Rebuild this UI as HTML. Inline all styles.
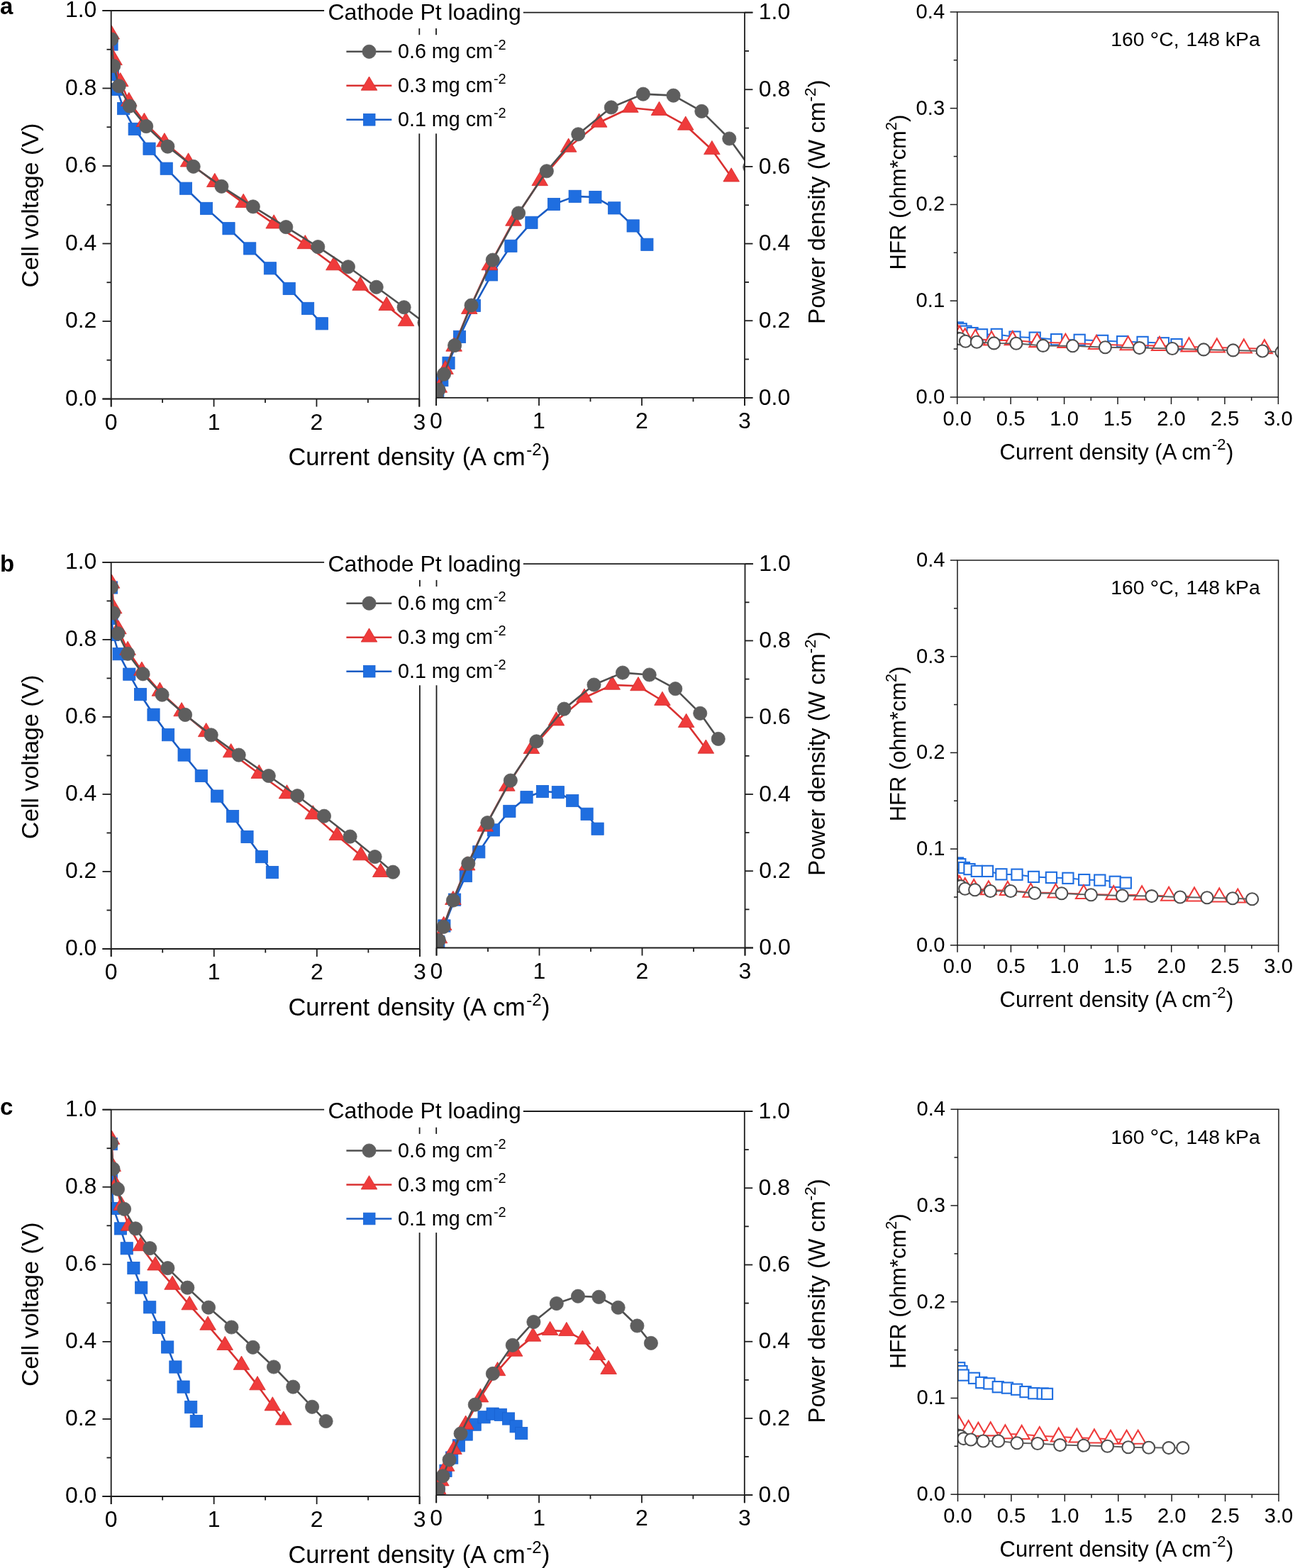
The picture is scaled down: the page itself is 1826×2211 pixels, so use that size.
<!DOCTYPE html>
<html><head><meta charset="utf-8"><title>Figure</title>
<style>
html,body{margin:0;padding:0;background:#fff;}
svg{display:block;}
text{font-family:'Liberation Sans', Arial, Helvetica, sans-serif;fill:#000;}
</style></head>
<body>
<svg xmlns="http://www.w3.org/2000/svg" width="1826" height="2211" viewBox="0 0 1826 2211">
<rect width="1826" height="2211" fill="#fff"/>
<clipPath id="c1"><rect x="156.7" y="15" width="434.6" height="547.5"/></clipPath>
<clipPath id="c2"><rect x="615" y="17.6" width="435" height="543.3"/></clipPath>
<g clip-path="url(#c1)">
<polyline points="157.5,62.5 159,105 165,126 174.2,153.1 189.7,181.9 210.5,209.7 234.7,237.7 262,265.7 291,293.9 322.5,322.2 352.2,350.4 380.9,378.3 407.7,406.9 434.1,434.9 453.8,456.3" fill="none" stroke="#1a5cc4" stroke-width="2.6" stroke-linejoin="round"/>
<rect x="148.9" y="53.9" width="17.2" height="17.2" fill="#1f6ee0" stroke="#1a62d0" stroke-width="0.8"/>
<rect x="150.4" y="96.4" width="17.2" height="17.2" fill="#1f6ee0" stroke="#1a62d0" stroke-width="0.8"/>
<rect x="156.4" y="117.4" width="17.2" height="17.2" fill="#1f6ee0" stroke="#1a62d0" stroke-width="0.8"/>
<rect x="165.6" y="144.5" width="17.2" height="17.2" fill="#1f6ee0" stroke="#1a62d0" stroke-width="0.8"/>
<rect x="181.1" y="173.3" width="17.2" height="17.2" fill="#1f6ee0" stroke="#1a62d0" stroke-width="0.8"/>
<rect x="201.9" y="201.1" width="17.2" height="17.2" fill="#1f6ee0" stroke="#1a62d0" stroke-width="0.8"/>
<rect x="226.1" y="229.1" width="17.2" height="17.2" fill="#1f6ee0" stroke="#1a62d0" stroke-width="0.8"/>
<rect x="253.4" y="257.1" width="17.2" height="17.2" fill="#1f6ee0" stroke="#1a62d0" stroke-width="0.8"/>
<rect x="282.4" y="285.3" width="17.2" height="17.2" fill="#1f6ee0" stroke="#1a62d0" stroke-width="0.8"/>
<rect x="313.9" y="313.6" width="17.2" height="17.2" fill="#1f6ee0" stroke="#1a62d0" stroke-width="0.8"/>
<rect x="343.6" y="341.8" width="17.2" height="17.2" fill="#1f6ee0" stroke="#1a62d0" stroke-width="0.8"/>
<rect x="372.3" y="369.7" width="17.2" height="17.2" fill="#1f6ee0" stroke="#1a62d0" stroke-width="0.8"/>
<rect x="399.1" y="398.3" width="17.2" height="17.2" fill="#1f6ee0" stroke="#1a62d0" stroke-width="0.8"/>
<rect x="425.5" y="426.3" width="17.2" height="17.2" fill="#1f6ee0" stroke="#1a62d0" stroke-width="0.8"/>
<rect x="445.2" y="447.7" width="17.2" height="17.2" fill="#1f6ee0" stroke="#1a62d0" stroke-width="0.8"/>
</g>
<g clip-path="url(#c1)">
<polyline points="157.2,48.6 161,85.1 169.7,115.4 181.8,143.1 203.4,172.1 231.9,200.4 265.6,228.6 302.8,257.1 343.2,286.1 386.2,315.6 430.3,344.3 470.9,374.4 508.1,402.9 545.2,431.1 572.5,453.2" fill="none" stroke="#d93131" stroke-width="2.6" stroke-linejoin="round"/>
<polygon points="157.2,35.8 168.5,55 145.9,55" fill="#ef3b3b" stroke="#d42a2a" stroke-width="0.8" stroke-linejoin="miter"/>
<polygon points="161,72.3 172.3,91.5 149.7,91.5" fill="#ef3b3b" stroke="#d42a2a" stroke-width="0.8" stroke-linejoin="miter"/>
<polygon points="169.7,102.6 181,121.8 158.4,121.8" fill="#ef3b3b" stroke="#d42a2a" stroke-width="0.8" stroke-linejoin="miter"/>
<polygon points="181.8,130.3 193.1,149.5 170.5,149.5" fill="#ef3b3b" stroke="#d42a2a" stroke-width="0.8" stroke-linejoin="miter"/>
<polygon points="203.4,159.3 214.7,178.5 192.1,178.5" fill="#ef3b3b" stroke="#d42a2a" stroke-width="0.8" stroke-linejoin="miter"/>
<polygon points="231.9,187.6 243.2,206.8 220.6,206.8" fill="#ef3b3b" stroke="#d42a2a" stroke-width="0.8" stroke-linejoin="miter"/>
<polygon points="265.6,215.8 276.9,235 254.3,235" fill="#ef3b3b" stroke="#d42a2a" stroke-width="0.8" stroke-linejoin="miter"/>
<polygon points="302.8,244.3 314.1,263.5 291.5,263.5" fill="#ef3b3b" stroke="#d42a2a" stroke-width="0.8" stroke-linejoin="miter"/>
<polygon points="343.2,273.3 354.5,292.5 331.9,292.5" fill="#ef3b3b" stroke="#d42a2a" stroke-width="0.8" stroke-linejoin="miter"/>
<polygon points="386.2,302.8 397.5,322 374.9,322" fill="#ef3b3b" stroke="#d42a2a" stroke-width="0.8" stroke-linejoin="miter"/>
<polygon points="430.3,331.5 441.6,350.7 419,350.7" fill="#ef3b3b" stroke="#d42a2a" stroke-width="0.8" stroke-linejoin="miter"/>
<polygon points="470.9,361.6 482.2,380.8 459.6,380.8" fill="#ef3b3b" stroke="#d42a2a" stroke-width="0.8" stroke-linejoin="miter"/>
<polygon points="508.1,390.1 519.4,409.3 496.8,409.3" fill="#ef3b3b" stroke="#d42a2a" stroke-width="0.8" stroke-linejoin="miter"/>
<polygon points="545.2,418.3 556.5,437.5 533.9,437.5" fill="#ef3b3b" stroke="#d42a2a" stroke-width="0.8" stroke-linejoin="miter"/>
<polygon points="572.5,440.4 583.8,459.6 561.2,459.6" fill="#ef3b3b" stroke="#d42a2a" stroke-width="0.8" stroke-linejoin="miter"/>
</g>
<g clip-path="url(#c1)">
<polyline points="157.2,55.4 160.2,93 167.7,121.3 182.8,149.6 206.2,178.1 236.4,206.6 272.7,234.8 312.4,262.8 356.8,291.4 403.3,320.1 448.3,348.1 490.9,376.3 530.7,404.8 569.6,433.3 598.5,455" fill="none" stroke="#4f4f4f" stroke-width="2.6" stroke-linejoin="round"/>
<circle cx="157.2" cy="55.4" r="9.6" fill="#5e5e5e" stroke="#5e5e5e" stroke-width="0.8"/>
<circle cx="160.2" cy="93" r="9.6" fill="#5e5e5e" stroke="#5e5e5e" stroke-width="0.8"/>
<circle cx="167.7" cy="121.3" r="9.6" fill="#5e5e5e" stroke="#5e5e5e" stroke-width="0.8"/>
<circle cx="182.8" cy="149.6" r="9.6" fill="#5e5e5e" stroke="#5e5e5e" stroke-width="0.8"/>
<circle cx="206.2" cy="178.1" r="9.6" fill="#5e5e5e" stroke="#5e5e5e" stroke-width="0.8"/>
<circle cx="236.4" cy="206.6" r="9.6" fill="#5e5e5e" stroke="#5e5e5e" stroke-width="0.8"/>
<circle cx="272.7" cy="234.8" r="9.6" fill="#5e5e5e" stroke="#5e5e5e" stroke-width="0.8"/>
<circle cx="312.4" cy="262.8" r="9.6" fill="#5e5e5e" stroke="#5e5e5e" stroke-width="0.8"/>
<circle cx="356.8" cy="291.4" r="9.6" fill="#5e5e5e" stroke="#5e5e5e" stroke-width="0.8"/>
<circle cx="403.3" cy="320.1" r="9.6" fill="#5e5e5e" stroke="#5e5e5e" stroke-width="0.8"/>
<circle cx="448.3" cy="348.1" r="9.6" fill="#5e5e5e" stroke="#5e5e5e" stroke-width="0.8"/>
<circle cx="490.9" cy="376.3" r="9.6" fill="#5e5e5e" stroke="#5e5e5e" stroke-width="0.8"/>
<circle cx="530.7" cy="404.8" r="9.6" fill="#5e5e5e" stroke="#5e5e5e" stroke-width="0.8"/>
<circle cx="569.6" cy="433.3" r="9.6" fill="#5e5e5e" stroke="#5e5e5e" stroke-width="0.8"/>
<circle cx="598.5" cy="455" r="9.6" fill="#5e5e5e" stroke="#5e5e5e" stroke-width="0.8"/>
</g>
<g clip-path="url(#c2)">
<polyline points="615.8,558.16 617.3,553.69 623.31,536.08 632.52,511.82 648.03,474.87 668.85,430.88 693.07,387.36 720.4,346.82 749.42,313.8 780.95,287.99 810.68,276.86 839.41,278.01 866.23,293.37 892.66,318.44 912.37,344.77" fill="none" stroke="#1a5cc4" stroke-width="2.6" stroke-linejoin="round"/>
<rect x="607.2" y="549.56" width="17.2" height="17.2" fill="#1f6ee0" stroke="#1a62d0" stroke-width="0.8"/>
<rect x="608.7" y="545.09" width="17.2" height="17.2" fill="#1f6ee0" stroke="#1a62d0" stroke-width="0.8"/>
<rect x="614.71" y="527.48" width="17.2" height="17.2" fill="#1f6ee0" stroke="#1a62d0" stroke-width="0.8"/>
<rect x="623.92" y="503.22" width="17.2" height="17.2" fill="#1f6ee0" stroke="#1a62d0" stroke-width="0.8"/>
<rect x="639.43" y="466.27" width="17.2" height="17.2" fill="#1f6ee0" stroke="#1a62d0" stroke-width="0.8"/>
<rect x="660.25" y="422.28" width="17.2" height="17.2" fill="#1f6ee0" stroke="#1a62d0" stroke-width="0.8"/>
<rect x="684.47" y="378.76" width="17.2" height="17.2" fill="#1f6ee0" stroke="#1a62d0" stroke-width="0.8"/>
<rect x="711.8" y="338.22" width="17.2" height="17.2" fill="#1f6ee0" stroke="#1a62d0" stroke-width="0.8"/>
<rect x="740.82" y="305.2" width="17.2" height="17.2" fill="#1f6ee0" stroke="#1a62d0" stroke-width="0.8"/>
<rect x="772.35" y="279.39" width="17.2" height="17.2" fill="#1f6ee0" stroke="#1a62d0" stroke-width="0.8"/>
<rect x="802.08" y="268.26" width="17.2" height="17.2" fill="#1f6ee0" stroke="#1a62d0" stroke-width="0.8"/>
<rect x="830.81" y="269.41" width="17.2" height="17.2" fill="#1f6ee0" stroke="#1a62d0" stroke-width="0.8"/>
<rect x="857.63" y="284.77" width="17.2" height="17.2" fill="#1f6ee0" stroke="#1a62d0" stroke-width="0.8"/>
<rect x="884.06" y="309.84" width="17.2" height="17.2" fill="#1f6ee0" stroke="#1a62d0" stroke-width="0.8"/>
<rect x="903.77" y="336.17" width="17.2" height="17.2" fill="#1f6ee0" stroke="#1a62d0" stroke-width="0.8"/>
</g>
<g clip-path="url(#c2)">
<polyline points="615.5,559.14 619.3,546.84 628.01,521.09 640.12,488.79 661.74,436.01 690.27,374.38 724,311.82 761.23,255.26 801.67,207.79 844.71,172.76 888.85,151.96 929.49,156.06 966.72,176.73 1003.86,211.22 1031.18,249.59" fill="none" stroke="#d93131" stroke-width="2.6" stroke-linejoin="round"/>
<polygon points="615.5,546.34 626.8,565.54 604.2,565.54" fill="#ef3b3b" stroke="#d42a2a" stroke-width="0.8" stroke-linejoin="miter"/>
<polygon points="619.3,534.04 630.6,553.24 608,553.24" fill="#ef3b3b" stroke="#d42a2a" stroke-width="0.8" stroke-linejoin="miter"/>
<polygon points="628.01,508.29 639.31,527.49 616.71,527.49" fill="#ef3b3b" stroke="#d42a2a" stroke-width="0.8" stroke-linejoin="miter"/>
<polygon points="640.12,475.99 651.42,495.19 628.82,495.19" fill="#ef3b3b" stroke="#d42a2a" stroke-width="0.8" stroke-linejoin="miter"/>
<polygon points="661.74,423.21 673.04,442.41 650.44,442.41" fill="#ef3b3b" stroke="#d42a2a" stroke-width="0.8" stroke-linejoin="miter"/>
<polygon points="690.27,361.58 701.57,380.78 678.97,380.78" fill="#ef3b3b" stroke="#d42a2a" stroke-width="0.8" stroke-linejoin="miter"/>
<polygon points="724,299.02 735.3,318.22 712.7,318.22" fill="#ef3b3b" stroke="#d42a2a" stroke-width="0.8" stroke-linejoin="miter"/>
<polygon points="761.23,242.46 772.53,261.66 749.93,261.66" fill="#ef3b3b" stroke="#d42a2a" stroke-width="0.8" stroke-linejoin="miter"/>
<polygon points="801.67,194.99 812.97,214.19 790.37,214.19" fill="#ef3b3b" stroke="#d42a2a" stroke-width="0.8" stroke-linejoin="miter"/>
<polygon points="844.71,159.96 856.01,179.16 833.41,179.16" fill="#ef3b3b" stroke="#d42a2a" stroke-width="0.8" stroke-linejoin="miter"/>
<polygon points="888.85,139.16 900.15,158.36 877.55,158.36" fill="#ef3b3b" stroke="#d42a2a" stroke-width="0.8" stroke-linejoin="miter"/>
<polygon points="929.49,143.26 940.79,162.46 918.19,162.46" fill="#ef3b3b" stroke="#d42a2a" stroke-width="0.8" stroke-linejoin="miter"/>
<polygon points="966.72,163.93 978.02,183.13 955.42,183.13" fill="#ef3b3b" stroke="#d42a2a" stroke-width="0.8" stroke-linejoin="miter"/>
<polygon points="1003.86,198.42 1015.16,217.62 992.56,217.62" fill="#ef3b3b" stroke="#d42a2a" stroke-width="0.8" stroke-linejoin="miter"/>
<polygon points="1031.18,236.79 1042.48,255.99 1019.88,255.99" fill="#ef3b3b" stroke="#d42a2a" stroke-width="0.8" stroke-linejoin="miter"/>
</g>
<g clip-path="url(#c2)">
<polyline points="615.5,559.16 618.5,549.64 626.01,527.66 641.12,487.08 664.55,430.56 694.77,366.6 731.11,300.51 770.84,241.26 815.28,189.31 861.83,151.44 906.87,132.65 949.51,134.64 989.34,156.89 1028.28,195.48 1057.21,235.57" fill="none" stroke="#4f4f4f" stroke-width="2.6" stroke-linejoin="round"/>
<circle cx="615.5" cy="559.16" r="9.6" fill="#5e5e5e" stroke="#5e5e5e" stroke-width="0.8"/>
<circle cx="618.5" cy="549.64" r="9.6" fill="#5e5e5e" stroke="#5e5e5e" stroke-width="0.8"/>
<circle cx="626.01" cy="527.66" r="9.6" fill="#5e5e5e" stroke="#5e5e5e" stroke-width="0.8"/>
<circle cx="641.12" cy="487.08" r="9.6" fill="#5e5e5e" stroke="#5e5e5e" stroke-width="0.8"/>
<circle cx="664.55" cy="430.56" r="9.6" fill="#5e5e5e" stroke="#5e5e5e" stroke-width="0.8"/>
<circle cx="694.77" cy="366.6" r="9.6" fill="#5e5e5e" stroke="#5e5e5e" stroke-width="0.8"/>
<circle cx="731.11" cy="300.51" r="9.6" fill="#5e5e5e" stroke="#5e5e5e" stroke-width="0.8"/>
<circle cx="770.84" cy="241.26" r="9.6" fill="#5e5e5e" stroke="#5e5e5e" stroke-width="0.8"/>
<circle cx="815.28" cy="189.31" r="9.6" fill="#5e5e5e" stroke="#5e5e5e" stroke-width="0.8"/>
<circle cx="861.83" cy="151.44" r="9.6" fill="#5e5e5e" stroke="#5e5e5e" stroke-width="0.8"/>
<circle cx="906.87" cy="132.65" r="9.6" fill="#5e5e5e" stroke="#5e5e5e" stroke-width="0.8"/>
<circle cx="949.51" cy="134.64" r="9.6" fill="#5e5e5e" stroke="#5e5e5e" stroke-width="0.8"/>
<circle cx="989.34" cy="156.89" r="9.6" fill="#5e5e5e" stroke="#5e5e5e" stroke-width="0.8"/>
<circle cx="1028.28" cy="195.48" r="9.6" fill="#5e5e5e" stroke="#5e5e5e" stroke-width="0.8"/>
<circle cx="1057.21" cy="235.57" r="9.6" fill="#5e5e5e" stroke="#5e5e5e" stroke-width="0.8"/>
</g>
<line x1="156.7" y1="15" x2="156.7" y2="573.5" stroke="#1c1c1c" stroke-width="1.8" />
<line x1="144.5" y1="562.5" x2="591.3" y2="562.5" stroke="#1c1c1c" stroke-width="1.8" />
<line x1="144.5" y1="15" x2="457.3" y2="15" stroke="#1c1c1c" stroke-width="1.8" />
<line x1="591.3" y1="15" x2="591.3" y2="573.5" stroke="#1c1c1c" stroke-width="1.8" />
<line x1="144.5" y1="562.5" x2="156.7" y2="562.5" stroke="#1c1c1c" stroke-width="1.8" />
<text x="136.4" y="571.6" font-size="32" text-anchor="end" >0.0</text>
<line x1="144.5" y1="453" x2="156.7" y2="453" stroke="#1c1c1c" stroke-width="1.8" />
<text x="136.4" y="462.1" font-size="32" text-anchor="end" >0.2</text>
<line x1="144.5" y1="343.5" x2="156.7" y2="343.5" stroke="#1c1c1c" stroke-width="1.8" />
<text x="136.4" y="352.6" font-size="32" text-anchor="end" >0.4</text>
<line x1="144.5" y1="234" x2="156.7" y2="234" stroke="#1c1c1c" stroke-width="1.8" />
<text x="136.4" y="243.1" font-size="32" text-anchor="end" >0.6</text>
<line x1="144.5" y1="124.5" x2="156.7" y2="124.5" stroke="#1c1c1c" stroke-width="1.8" />
<text x="136.4" y="133.6" font-size="32" text-anchor="end" >0.8</text>
<line x1="144.5" y1="15" x2="156.7" y2="15" stroke="#1c1c1c" stroke-width="1.8" />
<text x="136.4" y="24.1" font-size="32" text-anchor="end" >1.0</text>
<line x1="150.5" y1="507.75" x2="156.7" y2="507.75" stroke="#1c1c1c" stroke-width="1.8" />
<line x1="150.5" y1="398.25" x2="156.7" y2="398.25" stroke="#1c1c1c" stroke-width="1.8" />
<line x1="150.5" y1="288.75" x2="156.7" y2="288.75" stroke="#1c1c1c" stroke-width="1.8" />
<line x1="150.5" y1="179.25" x2="156.7" y2="179.25" stroke="#1c1c1c" stroke-width="1.8" />
<line x1="150.5" y1="69.75" x2="156.7" y2="69.75" stroke="#1c1c1c" stroke-width="1.8" />
<line x1="156.7" y1="562.5" x2="156.7" y2="573.5" stroke="#1c1c1c" stroke-width="1.8" />
<line x1="301.57" y1="562.5" x2="301.57" y2="573.5" stroke="#1c1c1c" stroke-width="1.8" />
<line x1="446.43" y1="562.5" x2="446.43" y2="573.5" stroke="#1c1c1c" stroke-width="1.8" />
<line x1="591.3" y1="562.5" x2="591.3" y2="573.5" stroke="#1c1c1c" stroke-width="1.8" />
<line x1="229.13" y1="562.5" x2="229.13" y2="568" stroke="#1c1c1c" stroke-width="1.8" />
<line x1="374" y1="562.5" x2="374" y2="568" stroke="#1c1c1c" stroke-width="1.8" />
<line x1="518.87" y1="562.5" x2="518.87" y2="568" stroke="#1c1c1c" stroke-width="1.8" />
<text x="156.7" y="605.6" font-size="32" text-anchor="middle" >0</text>
<text x="301.57" y="605.6" font-size="32" text-anchor="middle" >1</text>
<text x="446.43" y="605.6" font-size="32" text-anchor="middle" >2</text>
<text x="591.3" y="605.6" font-size="32" text-anchor="middle" >3</text>
<line x1="615" y1="17.6" x2="615" y2="571.9" stroke="#1c1c1c" stroke-width="1.8" />
<line x1="615" y1="560.9" x2="1061.4" y2="560.9" stroke="#1c1c1c" stroke-width="1.8" />
<line x1="737.6" y1="17.6" x2="1061.4" y2="17.6" stroke="#1c1c1c" stroke-width="1.8" />
<line x1="1050" y1="17.6" x2="1050" y2="571.9" stroke="#1c1c1c" stroke-width="1.8" />
<line x1="1050" y1="560.9" x2="1061.4" y2="560.9" stroke="#1c1c1c" stroke-width="1.8" />
<text x="1069.8" y="570.5" font-size="32" text-anchor="start" >0.0</text>
<line x1="1050" y1="452.24" x2="1061.4" y2="452.24" stroke="#1c1c1c" stroke-width="1.8" />
<text x="1069.8" y="461.84" font-size="32" text-anchor="start" >0.2</text>
<line x1="1050" y1="343.58" x2="1061.4" y2="343.58" stroke="#1c1c1c" stroke-width="1.8" />
<text x="1069.8" y="353.18" font-size="32" text-anchor="start" >0.4</text>
<line x1="1050" y1="234.92" x2="1061.4" y2="234.92" stroke="#1c1c1c" stroke-width="1.8" />
<text x="1069.8" y="244.52" font-size="32" text-anchor="start" >0.6</text>
<line x1="1050" y1="126.26" x2="1061.4" y2="126.26" stroke="#1c1c1c" stroke-width="1.8" />
<text x="1069.8" y="135.86" font-size="32" text-anchor="start" >0.8</text>
<line x1="1050" y1="17.6" x2="1061.4" y2="17.6" stroke="#1c1c1c" stroke-width="1.8" />
<text x="1069.8" y="27.2" font-size="32" text-anchor="start" >1.0</text>
<line x1="1050" y1="506.57" x2="1056" y2="506.57" stroke="#1c1c1c" stroke-width="1.8" />
<line x1="1050" y1="397.91" x2="1056" y2="397.91" stroke="#1c1c1c" stroke-width="1.8" />
<line x1="1050" y1="289.25" x2="1056" y2="289.25" stroke="#1c1c1c" stroke-width="1.8" />
<line x1="1050" y1="180.59" x2="1056" y2="180.59" stroke="#1c1c1c" stroke-width="1.8" />
<line x1="1050" y1="71.93" x2="1056" y2="71.93" stroke="#1c1c1c" stroke-width="1.8" />
<line x1="615" y1="560.9" x2="615" y2="571.9" stroke="#1c1c1c" stroke-width="1.8" />
<line x1="760" y1="560.9" x2="760" y2="571.9" stroke="#1c1c1c" stroke-width="1.8" />
<line x1="905" y1="560.9" x2="905" y2="571.9" stroke="#1c1c1c" stroke-width="1.8" />
<line x1="1050" y1="560.9" x2="1050" y2="571.9" stroke="#1c1c1c" stroke-width="1.8" />
<line x1="687.5" y1="560.9" x2="687.5" y2="566.4" stroke="#1c1c1c" stroke-width="1.8" />
<line x1="832.5" y1="560.9" x2="832.5" y2="566.4" stroke="#1c1c1c" stroke-width="1.8" />
<line x1="977.5" y1="560.9" x2="977.5" y2="566.4" stroke="#1c1c1c" stroke-width="1.8" />
<text x="615" y="604" font-size="32" text-anchor="middle" >0</text>
<text x="760" y="604" font-size="32" text-anchor="middle" >1</text>
<text x="905" y="604" font-size="32" text-anchor="middle" >2</text>
<text x="1050" y="604" font-size="32" text-anchor="middle" >3</text>
<rect x="457.3" y="-5" width="280.3" height="45" fill="#fff"/>
<rect x="480" y="49.2" width="250" height="139.2" fill="#fff"/>
<text x="462.5" y="27.6" font-size="32" text-anchor="start" >Cathode Pt loading</text>
<line x1="488.4" y1="72.8" x2="552.3" y2="72.8" stroke="#4f4f4f" stroke-width="2.6" />
<circle cx="520.5" cy="72.8" r="9.6" fill="#5e5e5e" stroke="#5e5e5e" stroke-width="0.8"/>
<text x="561" y="81.8" font-size="28.7" text-anchor="start" >0.6 mg cm<tspan font-size="20" dy="-11.5" dx="1">-2</tspan></text>
<line x1="488.4" y1="120.8" x2="552.3" y2="120.8" stroke="#d93131" stroke-width="2.6" />
<polygon points="520.5,108 531.8,127.2 509.2,127.2" fill="#ef3b3b" stroke="#d42a2a" stroke-width="0.8" stroke-linejoin="miter"/>
<text x="561" y="129.8" font-size="28.7" text-anchor="start" >0.3 mg cm<tspan font-size="20" dy="-11.5" dx="1">-2</tspan></text>
<line x1="488.4" y1="168.8" x2="552.3" y2="168.8" stroke="#1a5cc4" stroke-width="2.6" />
<rect x="512.4" y="160.5" width="16.6" height="16.6" fill="#1f6ee0" stroke="#1a62d0" stroke-width="0.8"/>
<text x="561" y="177.8" font-size="28.7" text-anchor="start" >0.1 mg cm<tspan font-size="20" dy="-11.5" dx="1">-2</tspan></text>
<text x="406.5" y="656.1" font-size="34.4" text-anchor="start" word-spacing="1.2">Current density (A cm<tspan font-size="24" dy="-13.8" dx="1.5">-2</tspan><tspan dy="13.8" dx="0.5">)</tspan></text>
<text transform="translate(54,405.4) rotate(-90)" font-size="33.9" text-anchor="start">Cell voltage (V)</text>
<text transform="translate(1163.4,457) rotate(-90)" font-size="33.2" text-anchor="start">Power density (W cm<tspan font-size="22.5" dy="-13.3">-2</tspan><tspan dy="13.3">)</tspan></text>
<text x="0" y="19.7" font-size="33" font-weight="bold">a</text>
<clipPath id="c3"><rect x="1349.7" y="16.9" width="452.7" height="543.1"/></clipPath>
<g clip-path="url(#c3)">
<polyline points="1350.5,462 1355.2,463.8 1362,467.2 1371.1,469.6 1384.5,471.8 1405.3,471.4 1431,475.1 1459.2,476.2 1489.6,478.7 1522.2,479.3 1554.6,480.4 1582.7,481.7 1611.1,482.4 1640.4,483.8 1659,485.6" fill="none" stroke="#1f6ee0" stroke-width="2.0" stroke-linejoin="round"/>
<rect x="1342.9" y="454.4" width="15.2" height="15.2" fill="#fff" stroke="#1f6ee0" stroke-width="2.1"/>
<rect x="1347.6" y="456.2" width="15.2" height="15.2" fill="#fff" stroke="#1f6ee0" stroke-width="2.1"/>
<rect x="1354.4" y="459.6" width="15.2" height="15.2" fill="#fff" stroke="#1f6ee0" stroke-width="2.1"/>
<rect x="1363.5" y="462" width="15.2" height="15.2" fill="#fff" stroke="#1f6ee0" stroke-width="2.1"/>
<rect x="1376.9" y="464.2" width="15.2" height="15.2" fill="#fff" stroke="#1f6ee0" stroke-width="2.1"/>
<rect x="1397.7" y="463.8" width="15.2" height="15.2" fill="#fff" stroke="#1f6ee0" stroke-width="2.1"/>
<rect x="1423.4" y="467.5" width="15.2" height="15.2" fill="#fff" stroke="#1f6ee0" stroke-width="2.1"/>
<rect x="1451.6" y="468.6" width="15.2" height="15.2" fill="#fff" stroke="#1f6ee0" stroke-width="2.1"/>
<rect x="1482" y="471.1" width="15.2" height="15.2" fill="#fff" stroke="#1f6ee0" stroke-width="2.1"/>
<rect x="1514.6" y="471.7" width="15.2" height="15.2" fill="#fff" stroke="#1f6ee0" stroke-width="2.1"/>
<rect x="1547" y="472.8" width="15.2" height="15.2" fill="#fff" stroke="#1f6ee0" stroke-width="2.1"/>
<rect x="1575.1" y="474.1" width="15.2" height="15.2" fill="#fff" stroke="#1f6ee0" stroke-width="2.1"/>
<rect x="1603.5" y="474.8" width="15.2" height="15.2" fill="#fff" stroke="#1f6ee0" stroke-width="2.1"/>
<rect x="1632.8" y="476.2" width="15.2" height="15.2" fill="#fff" stroke="#1f6ee0" stroke-width="2.1"/>
<rect x="1651.4" y="478" width="15.2" height="15.2" fill="#fff" stroke="#1f6ee0" stroke-width="2.1"/>
</g>
<g clip-path="url(#c3)">
<polyline points="1349.7,470 1353.1,472.4 1360.7,475.9 1375.3,477.5 1398.1,480 1427.8,479.8 1462.4,482.8 1502.4,483.5 1546,485.6 1590.7,486.9 1635,487.6 1676.5,489 1715.9,490.1 1753.9,491.1 1782.9,491.8" fill="none" stroke="#ef3b3b" stroke-width="2.0" stroke-linejoin="round"/>
<polygon points="1349.7,457.33 1360.7,476.33 1338.7,476.33" fill="#fff" stroke="#ef3b3b" stroke-width="2.1" stroke-linejoin="miter"/>
<polygon points="1353.1,459.73 1364.1,478.73 1342.1,478.73" fill="#fff" stroke="#ef3b3b" stroke-width="2.1" stroke-linejoin="miter"/>
<polygon points="1360.7,463.23 1371.7,482.23 1349.7,482.23" fill="#fff" stroke="#ef3b3b" stroke-width="2.1" stroke-linejoin="miter"/>
<polygon points="1375.3,464.83 1386.3,483.83 1364.3,483.83" fill="#fff" stroke="#ef3b3b" stroke-width="2.1" stroke-linejoin="miter"/>
<polygon points="1398.1,467.33 1409.1,486.33 1387.1,486.33" fill="#fff" stroke="#ef3b3b" stroke-width="2.1" stroke-linejoin="miter"/>
<polygon points="1427.8,467.13 1438.8,486.13 1416.8,486.13" fill="#fff" stroke="#ef3b3b" stroke-width="2.1" stroke-linejoin="miter"/>
<polygon points="1462.4,470.13 1473.4,489.13 1451.4,489.13" fill="#fff" stroke="#ef3b3b" stroke-width="2.1" stroke-linejoin="miter"/>
<polygon points="1502.4,470.83 1513.4,489.83 1491.4,489.83" fill="#fff" stroke="#ef3b3b" stroke-width="2.1" stroke-linejoin="miter"/>
<polygon points="1546,472.93 1557,491.93 1535,491.93" fill="#fff" stroke="#ef3b3b" stroke-width="2.1" stroke-linejoin="miter"/>
<polygon points="1590.7,474.23 1601.7,493.23 1579.7,493.23" fill="#fff" stroke="#ef3b3b" stroke-width="2.1" stroke-linejoin="miter"/>
<polygon points="1635,474.93 1646,493.93 1624,493.93" fill="#fff" stroke="#ef3b3b" stroke-width="2.1" stroke-linejoin="miter"/>
<polygon points="1676.5,476.33 1687.5,495.33 1665.5,495.33" fill="#fff" stroke="#ef3b3b" stroke-width="2.1" stroke-linejoin="miter"/>
<polygon points="1715.9,477.43 1726.9,496.43 1704.9,496.43" fill="#fff" stroke="#ef3b3b" stroke-width="2.1" stroke-linejoin="miter"/>
<polygon points="1753.9,478.43 1764.9,497.43 1742.9,497.43" fill="#fff" stroke="#ef3b3b" stroke-width="2.1" stroke-linejoin="miter"/>
<polygon points="1782.9,479.13 1793.9,498.13 1771.9,498.13" fill="#fff" stroke="#ef3b3b" stroke-width="2.1" stroke-linejoin="miter"/>
</g>
<g clip-path="url(#c3)">
<polyline points="1350.2,477 1353.8,477.7 1361.4,481.2 1377.3,482.3 1401.5,483.9 1432.9,484.3 1470.7,487.4 1512.5,487.8 1558.4,489.7 1606.6,490.6 1653,491.5 1697.2,492.9 1738.7,493.9 1780.1,495 1807,496.5" fill="none" stroke="#5e5e5e" stroke-width="2.0" stroke-linejoin="round"/>
<circle cx="1350.2" cy="477" r="8.5" fill="#fff" stroke="#4f4f4f" stroke-width="2.1"/>
<circle cx="1353.8" cy="477.7" r="8.5" fill="#fff" stroke="#4f4f4f" stroke-width="2.1"/>
<circle cx="1361.4" cy="481.2" r="8.5" fill="#fff" stroke="#4f4f4f" stroke-width="2.1"/>
<circle cx="1377.3" cy="482.3" r="8.5" fill="#fff" stroke="#4f4f4f" stroke-width="2.1"/>
<circle cx="1401.5" cy="483.9" r="8.5" fill="#fff" stroke="#4f4f4f" stroke-width="2.1"/>
<circle cx="1432.9" cy="484.3" r="8.5" fill="#fff" stroke="#4f4f4f" stroke-width="2.1"/>
<circle cx="1470.7" cy="487.4" r="8.5" fill="#fff" stroke="#4f4f4f" stroke-width="2.1"/>
<circle cx="1512.5" cy="487.8" r="8.5" fill="#fff" stroke="#4f4f4f" stroke-width="2.1"/>
<circle cx="1558.4" cy="489.7" r="8.5" fill="#fff" stroke="#4f4f4f" stroke-width="2.1"/>
<circle cx="1606.6" cy="490.6" r="8.5" fill="#fff" stroke="#4f4f4f" stroke-width="2.1"/>
<circle cx="1653" cy="491.5" r="8.5" fill="#fff" stroke="#4f4f4f" stroke-width="2.1"/>
<circle cx="1697.2" cy="492.9" r="8.5" fill="#fff" stroke="#4f4f4f" stroke-width="2.1"/>
<circle cx="1738.7" cy="493.9" r="8.5" fill="#fff" stroke="#4f4f4f" stroke-width="2.1"/>
<circle cx="1780.1" cy="495" r="8.5" fill="#fff" stroke="#4f4f4f" stroke-width="2.1"/>
<circle cx="1807" cy="496.5" r="8.5" fill="#fff" stroke="#4f4f4f" stroke-width="2.1"/>
</g>
<rect x="1349.7" y="16.9" width="452.7" height="543.1" fill="none" stroke="#1c1c1c" stroke-width="1.5"/>
<line x1="1339.7" y1="560" x2="1349.7" y2="560" stroke="#1c1c1c" stroke-width="1.5" />
<text x="1332.2" y="568.9" font-size="29.2" text-anchor="end" >0.0</text>
<line x1="1339.7" y1="424.23" x2="1349.7" y2="424.23" stroke="#1c1c1c" stroke-width="1.5" />
<text x="1332.2" y="433.12" font-size="29.2" text-anchor="end" >0.1</text>
<line x1="1339.7" y1="288.45" x2="1349.7" y2="288.45" stroke="#1c1c1c" stroke-width="1.5" />
<text x="1332.2" y="297.35" font-size="29.2" text-anchor="end" >0.2</text>
<line x1="1339.7" y1="152.67" x2="1349.7" y2="152.67" stroke="#1c1c1c" stroke-width="1.5" />
<text x="1332.2" y="161.57" font-size="29.2" text-anchor="end" >0.3</text>
<line x1="1339.7" y1="16.9" x2="1349.7" y2="16.9" stroke="#1c1c1c" stroke-width="1.5" />
<text x="1332.2" y="25.8" font-size="29.2" text-anchor="end" >0.4</text>
<line x1="1344.7" y1="492.11" x2="1349.7" y2="492.11" stroke="#1c1c1c" stroke-width="1.5" />
<line x1="1344.7" y1="356.34" x2="1349.7" y2="356.34" stroke="#1c1c1c" stroke-width="1.5" />
<line x1="1344.7" y1="220.56" x2="1349.7" y2="220.56" stroke="#1c1c1c" stroke-width="1.5" />
<line x1="1344.7" y1="84.79" x2="1349.7" y2="84.79" stroke="#1c1c1c" stroke-width="1.5" />
<line x1="1349.7" y1="560" x2="1349.7" y2="570" stroke="#1c1c1c" stroke-width="1.5" />
<text x="1349.7" y="599.5" font-size="29.2" text-anchor="middle" >0.0</text>
<line x1="1425.15" y1="560" x2="1425.15" y2="570" stroke="#1c1c1c" stroke-width="1.5" />
<text x="1425.15" y="599.5" font-size="29.2" text-anchor="middle" >0.5</text>
<line x1="1500.6" y1="560" x2="1500.6" y2="570" stroke="#1c1c1c" stroke-width="1.5" />
<text x="1500.6" y="599.5" font-size="29.2" text-anchor="middle" >1.0</text>
<line x1="1576.05" y1="560" x2="1576.05" y2="570" stroke="#1c1c1c" stroke-width="1.5" />
<text x="1576.05" y="599.5" font-size="29.2" text-anchor="middle" >1.5</text>
<line x1="1651.5" y1="560" x2="1651.5" y2="570" stroke="#1c1c1c" stroke-width="1.5" />
<text x="1651.5" y="599.5" font-size="29.2" text-anchor="middle" >2.0</text>
<line x1="1726.95" y1="560" x2="1726.95" y2="570" stroke="#1c1c1c" stroke-width="1.5" />
<text x="1726.95" y="599.5" font-size="29.2" text-anchor="middle" >2.5</text>
<line x1="1802.4" y1="560" x2="1802.4" y2="570" stroke="#1c1c1c" stroke-width="1.5" />
<text x="1802.4" y="599.5" font-size="29.2" text-anchor="middle" >3.0</text>
<line x1="1387.42" y1="560" x2="1387.42" y2="565" stroke="#1c1c1c" stroke-width="1.5" />
<line x1="1462.88" y1="560" x2="1462.88" y2="565" stroke="#1c1c1c" stroke-width="1.5" />
<line x1="1538.33" y1="560" x2="1538.33" y2="565" stroke="#1c1c1c" stroke-width="1.5" />
<line x1="1613.78" y1="560" x2="1613.78" y2="565" stroke="#1c1c1c" stroke-width="1.5" />
<line x1="1689.23" y1="560" x2="1689.23" y2="565" stroke="#1c1c1c" stroke-width="1.5" />
<line x1="1764.68" y1="560" x2="1764.68" y2="565" stroke="#1c1c1c" stroke-width="1.5" />
<text x="1409.5" y="647.5" font-size="31" text-anchor="start" >Current density (A cm<tspan font-size="22" dy="-13.5" dx="1.5">-2</tspan><tspan dy="13.5" dx="0.5">)</tspan></text>
<text transform="translate(1276.5,380.4) rotate(-90)" font-size="31" text-anchor="start">HFR (ohm*cm<tspan font-size="21.5" dy="-13">2</tspan><tspan dy="13">)</tspan></text>
<text x="1776.8" y="65.3" font-size="28.4" text-anchor="end" >160 <tspan font-size="32" dy="1.6">°</tspan><tspan dy="-1.6">C,</tspan><tspan dx="2"> 148 kPa</tspan></text>
<clipPath id="c4"><rect x="156.7" y="792.9" width="435.2" height="545.1"/></clipPath>
<clipPath id="c5"><rect x="615.5" y="795.2" width="435" height="541.3"/></clipPath>
<g clip-path="url(#c4)">
<polyline points="157.1,828.5 157.5,872 159.5,895 167.6,922.2 182.3,950.7 198,979.2 216.5,1007.7 237.1,1036.2 259.6,1064.6 283.8,1094 306.2,1122.6 328.1,1151.1 348.5,1180 368.9,1208.1 383.9,1230.1" fill="none" stroke="#1a5cc4" stroke-width="2.6" stroke-linejoin="round"/>
<rect x="148.5" y="819.9" width="17.2" height="17.2" fill="#1f6ee0" stroke="#1a62d0" stroke-width="0.8"/>
<rect x="148.9" y="863.4" width="17.2" height="17.2" fill="#1f6ee0" stroke="#1a62d0" stroke-width="0.8"/>
<rect x="150.9" y="886.4" width="17.2" height="17.2" fill="#1f6ee0" stroke="#1a62d0" stroke-width="0.8"/>
<rect x="159" y="913.6" width="17.2" height="17.2" fill="#1f6ee0" stroke="#1a62d0" stroke-width="0.8"/>
<rect x="173.7" y="942.1" width="17.2" height="17.2" fill="#1f6ee0" stroke="#1a62d0" stroke-width="0.8"/>
<rect x="189.4" y="970.6" width="17.2" height="17.2" fill="#1f6ee0" stroke="#1a62d0" stroke-width="0.8"/>
<rect x="207.9" y="999.1" width="17.2" height="17.2" fill="#1f6ee0" stroke="#1a62d0" stroke-width="0.8"/>
<rect x="228.5" y="1027.6" width="17.2" height="17.2" fill="#1f6ee0" stroke="#1a62d0" stroke-width="0.8"/>
<rect x="251" y="1056" width="17.2" height="17.2" fill="#1f6ee0" stroke="#1a62d0" stroke-width="0.8"/>
<rect x="275.2" y="1085.4" width="17.2" height="17.2" fill="#1f6ee0" stroke="#1a62d0" stroke-width="0.8"/>
<rect x="297.6" y="1114" width="17.2" height="17.2" fill="#1f6ee0" stroke="#1a62d0" stroke-width="0.8"/>
<rect x="319.5" y="1142.5" width="17.2" height="17.2" fill="#1f6ee0" stroke="#1a62d0" stroke-width="0.8"/>
<rect x="339.9" y="1171.4" width="17.2" height="17.2" fill="#1f6ee0" stroke="#1a62d0" stroke-width="0.8"/>
<rect x="360.3" y="1199.5" width="17.2" height="17.2" fill="#1f6ee0" stroke="#1a62d0" stroke-width="0.8"/>
<rect x="375.3" y="1221.5" width="17.2" height="17.2" fill="#1f6ee0" stroke="#1a62d0" stroke-width="0.8"/>
</g>
<g clip-path="url(#c4)">
<polyline points="157.5,822.8 160.7,858.5 166.9,887.4 180.1,917 199.9,945.9 225.4,974.9 256.1,1003.4 290.7,1032.3 325.7,1061.4 365.3,1091 404.5,1119.5 441.3,1148.5 475.3,1178.2 509,1206.4 536.7,1230.1" fill="none" stroke="#d93131" stroke-width="2.6" stroke-linejoin="round"/>
<polygon points="157.5,810 168.8,829.2 146.2,829.2" fill="#ef3b3b" stroke="#d42a2a" stroke-width="0.8" stroke-linejoin="miter"/>
<polygon points="160.7,845.7 172,864.9 149.4,864.9" fill="#ef3b3b" stroke="#d42a2a" stroke-width="0.8" stroke-linejoin="miter"/>
<polygon points="166.9,874.6 178.2,893.8 155.6,893.8" fill="#ef3b3b" stroke="#d42a2a" stroke-width="0.8" stroke-linejoin="miter"/>
<polygon points="180.1,904.2 191.4,923.4 168.8,923.4" fill="#ef3b3b" stroke="#d42a2a" stroke-width="0.8" stroke-linejoin="miter"/>
<polygon points="199.9,933.1 211.2,952.3 188.6,952.3" fill="#ef3b3b" stroke="#d42a2a" stroke-width="0.8" stroke-linejoin="miter"/>
<polygon points="225.4,962.1 236.7,981.3 214.1,981.3" fill="#ef3b3b" stroke="#d42a2a" stroke-width="0.8" stroke-linejoin="miter"/>
<polygon points="256.1,990.6 267.4,1009.8 244.8,1009.8" fill="#ef3b3b" stroke="#d42a2a" stroke-width="0.8" stroke-linejoin="miter"/>
<polygon points="290.7,1019.5 302,1038.7 279.4,1038.7" fill="#ef3b3b" stroke="#d42a2a" stroke-width="0.8" stroke-linejoin="miter"/>
<polygon points="325.7,1048.6 337,1067.8 314.4,1067.8" fill="#ef3b3b" stroke="#d42a2a" stroke-width="0.8" stroke-linejoin="miter"/>
<polygon points="365.3,1078.2 376.6,1097.4 354,1097.4" fill="#ef3b3b" stroke="#d42a2a" stroke-width="0.8" stroke-linejoin="miter"/>
<polygon points="404.5,1106.7 415.8,1125.9 393.2,1125.9" fill="#ef3b3b" stroke="#d42a2a" stroke-width="0.8" stroke-linejoin="miter"/>
<polygon points="441.3,1135.7 452.6,1154.9 430,1154.9" fill="#ef3b3b" stroke="#d42a2a" stroke-width="0.8" stroke-linejoin="miter"/>
<polygon points="475.3,1165.4 486.6,1184.6 464,1184.6" fill="#ef3b3b" stroke="#d42a2a" stroke-width="0.8" stroke-linejoin="miter"/>
<polygon points="509,1193.6 520.3,1212.8 497.7,1212.8" fill="#ef3b3b" stroke="#d42a2a" stroke-width="0.8" stroke-linejoin="miter"/>
<polygon points="536.7,1217.3 548,1236.5 525.4,1236.5" fill="#ef3b3b" stroke="#d42a2a" stroke-width="0.8" stroke-linejoin="miter"/>
</g>
<g clip-path="url(#c4)">
<polyline points="157,828 160,864.5 166.4,893.3 180.2,921.8 201.5,950.3 228.6,979.7 261.1,1007.9 297.7,1036.4 336.7,1064.6 378.8,1094 419.3,1122.2 457,1150.7 493.6,1179.6 528.6,1208.1 554.1,1229.7" fill="none" stroke="#4f4f4f" stroke-width="2.6" stroke-linejoin="round"/>
<circle cx="157" cy="828" r="9.6" fill="#5e5e5e" stroke="#5e5e5e" stroke-width="0.8"/>
<circle cx="160" cy="864.5" r="9.6" fill="#5e5e5e" stroke="#5e5e5e" stroke-width="0.8"/>
<circle cx="166.4" cy="893.3" r="9.6" fill="#5e5e5e" stroke="#5e5e5e" stroke-width="0.8"/>
<circle cx="180.2" cy="921.8" r="9.6" fill="#5e5e5e" stroke="#5e5e5e" stroke-width="0.8"/>
<circle cx="201.5" cy="950.3" r="9.6" fill="#5e5e5e" stroke="#5e5e5e" stroke-width="0.8"/>
<circle cx="228.6" cy="979.7" r="9.6" fill="#5e5e5e" stroke="#5e5e5e" stroke-width="0.8"/>
<circle cx="261.1" cy="1007.9" r="9.6" fill="#5e5e5e" stroke="#5e5e5e" stroke-width="0.8"/>
<circle cx="297.7" cy="1036.4" r="9.6" fill="#5e5e5e" stroke="#5e5e5e" stroke-width="0.8"/>
<circle cx="336.7" cy="1064.6" r="9.6" fill="#5e5e5e" stroke="#5e5e5e" stroke-width="0.8"/>
<circle cx="378.8" cy="1094" r="9.6" fill="#5e5e5e" stroke="#5e5e5e" stroke-width="0.8"/>
<circle cx="419.3" cy="1122.2" r="9.6" fill="#5e5e5e" stroke="#5e5e5e" stroke-width="0.8"/>
<circle cx="457" cy="1150.7" r="9.6" fill="#5e5e5e" stroke="#5e5e5e" stroke-width="0.8"/>
<circle cx="493.6" cy="1179.6" r="9.6" fill="#5e5e5e" stroke="#5e5e5e" stroke-width="0.8"/>
<circle cx="528.6" cy="1208.1" r="9.6" fill="#5e5e5e" stroke="#5e5e5e" stroke-width="0.8"/>
<circle cx="554.1" cy="1229.7" r="9.6" fill="#5e5e5e" stroke="#5e5e5e" stroke-width="0.8"/>
</g>
<g clip-path="url(#c5)">
<polyline points="615.9,1335.1 616.3,1333.95 618.3,1328.01 626.39,1305.48 641.09,1268.63 656.78,1235.06 675.27,1201.29 695.86,1170.4 718.35,1143.92 742.54,1124.21 764.93,1116.06 786.82,1117.21 807.21,1129.06 827.6,1147.81 842.6,1168.69" fill="none" stroke="#1a5cc4" stroke-width="2.6" stroke-linejoin="round"/>
<rect x="607.3" y="1326.5" width="17.2" height="17.2" fill="#1f6ee0" stroke="#1a62d0" stroke-width="0.8"/>
<rect x="607.7" y="1325.35" width="17.2" height="17.2" fill="#1f6ee0" stroke="#1a62d0" stroke-width="0.8"/>
<rect x="609.7" y="1319.41" width="17.2" height="17.2" fill="#1f6ee0" stroke="#1a62d0" stroke-width="0.8"/>
<rect x="617.79" y="1296.88" width="17.2" height="17.2" fill="#1f6ee0" stroke="#1a62d0" stroke-width="0.8"/>
<rect x="632.49" y="1260.03" width="17.2" height="17.2" fill="#1f6ee0" stroke="#1a62d0" stroke-width="0.8"/>
<rect x="648.18" y="1226.46" width="17.2" height="17.2" fill="#1f6ee0" stroke="#1a62d0" stroke-width="0.8"/>
<rect x="666.67" y="1192.69" width="17.2" height="17.2" fill="#1f6ee0" stroke="#1a62d0" stroke-width="0.8"/>
<rect x="687.26" y="1161.8" width="17.2" height="17.2" fill="#1f6ee0" stroke="#1a62d0" stroke-width="0.8"/>
<rect x="709.75" y="1135.32" width="17.2" height="17.2" fill="#1f6ee0" stroke="#1a62d0" stroke-width="0.8"/>
<rect x="733.94" y="1115.61" width="17.2" height="17.2" fill="#1f6ee0" stroke="#1a62d0" stroke-width="0.8"/>
<rect x="756.33" y="1107.46" width="17.2" height="17.2" fill="#1f6ee0" stroke="#1a62d0" stroke-width="0.8"/>
<rect x="778.22" y="1108.61" width="17.2" height="17.2" fill="#1f6ee0" stroke="#1a62d0" stroke-width="0.8"/>
<rect x="798.61" y="1120.46" width="17.2" height="17.2" fill="#1f6ee0" stroke="#1a62d0" stroke-width="0.8"/>
<rect x="819" y="1139.21" width="17.2" height="17.2" fill="#1f6ee0" stroke="#1a62d0" stroke-width="0.8"/>
<rect x="834" y="1160.09" width="17.2" height="17.2" fill="#1f6ee0" stroke="#1a62d0" stroke-width="0.8"/>
</g>
<g clip-path="url(#c5)">
<polyline points="616.3,1333.68 619.5,1323.37 625.7,1305.04 638.89,1269.06 658.68,1220.55 684.17,1165.74 714.85,1108.83 749.44,1056.09 784.42,1016.51 824,983.8 863.19,965.86 899.97,967.32 933.95,987.99 967.64,1019.13 995.33,1055.83" fill="none" stroke="#d93131" stroke-width="2.6" stroke-linejoin="round"/>
<polygon points="616.3,1320.88 627.6,1340.08 605,1340.08" fill="#ef3b3b" stroke="#d42a2a" stroke-width="0.8" stroke-linejoin="miter"/>
<polygon points="619.5,1310.57 630.8,1329.77 608.2,1329.77" fill="#ef3b3b" stroke="#d42a2a" stroke-width="0.8" stroke-linejoin="miter"/>
<polygon points="625.7,1292.24 637,1311.44 614.4,1311.44" fill="#ef3b3b" stroke="#d42a2a" stroke-width="0.8" stroke-linejoin="miter"/>
<polygon points="638.89,1256.26 650.19,1275.46 627.59,1275.46" fill="#ef3b3b" stroke="#d42a2a" stroke-width="0.8" stroke-linejoin="miter"/>
<polygon points="658.68,1207.75 669.98,1226.95 647.38,1226.95" fill="#ef3b3b" stroke="#d42a2a" stroke-width="0.8" stroke-linejoin="miter"/>
<polygon points="684.17,1152.94 695.47,1172.14 672.87,1172.14" fill="#ef3b3b" stroke="#d42a2a" stroke-width="0.8" stroke-linejoin="miter"/>
<polygon points="714.85,1096.03 726.15,1115.23 703.55,1115.23" fill="#ef3b3b" stroke="#d42a2a" stroke-width="0.8" stroke-linejoin="miter"/>
<polygon points="749.44,1043.29 760.74,1062.49 738.14,1062.49" fill="#ef3b3b" stroke="#d42a2a" stroke-width="0.8" stroke-linejoin="miter"/>
<polygon points="784.42,1003.71 795.72,1022.91 773.12,1022.91" fill="#ef3b3b" stroke="#d42a2a" stroke-width="0.8" stroke-linejoin="miter"/>
<polygon points="824,971 835.3,990.2 812.7,990.2" fill="#ef3b3b" stroke="#d42a2a" stroke-width="0.8" stroke-linejoin="miter"/>
<polygon points="863.19,953.06 874.49,972.26 851.89,972.26" fill="#ef3b3b" stroke="#d42a2a" stroke-width="0.8" stroke-linejoin="miter"/>
<polygon points="899.97,954.52 911.27,973.72 888.67,973.72" fill="#ef3b3b" stroke="#d42a2a" stroke-width="0.8" stroke-linejoin="miter"/>
<polygon points="933.95,975.19 945.25,994.39 922.65,994.39" fill="#ef3b3b" stroke="#d42a2a" stroke-width="0.8" stroke-linejoin="miter"/>
<polygon points="967.64,1006.33 978.94,1025.53 956.34,1025.53" fill="#ef3b3b" stroke="#d42a2a" stroke-width="0.8" stroke-linejoin="miter"/>
<polygon points="995.33,1043.03 1006.63,1062.23 984.03,1062.23" fill="#ef3b3b" stroke="#d42a2a" stroke-width="0.8" stroke-linejoin="miter"/>
</g>
<g clip-path="url(#c5)">
<polyline points="615.8,1335.45 618.8,1325.8 625.2,1306.97 638.99,1269.55 660.28,1217.6 687.37,1160.15 719.85,1100.59 756.44,1045.4 795.42,999.63 837.5,965.54 877.98,948.58 915.66,951.48 952.25,971.2 987.23,1005.8 1012.72,1041.89" fill="none" stroke="#4f4f4f" stroke-width="2.6" stroke-linejoin="round"/>
<circle cx="615.8" cy="1335.45" r="9.6" fill="#5e5e5e" stroke="#5e5e5e" stroke-width="0.8"/>
<circle cx="618.8" cy="1325.8" r="9.6" fill="#5e5e5e" stroke="#5e5e5e" stroke-width="0.8"/>
<circle cx="625.2" cy="1306.97" r="9.6" fill="#5e5e5e" stroke="#5e5e5e" stroke-width="0.8"/>
<circle cx="638.99" cy="1269.55" r="9.6" fill="#5e5e5e" stroke="#5e5e5e" stroke-width="0.8"/>
<circle cx="660.28" cy="1217.6" r="9.6" fill="#5e5e5e" stroke="#5e5e5e" stroke-width="0.8"/>
<circle cx="687.37" cy="1160.15" r="9.6" fill="#5e5e5e" stroke="#5e5e5e" stroke-width="0.8"/>
<circle cx="719.85" cy="1100.59" r="9.6" fill="#5e5e5e" stroke="#5e5e5e" stroke-width="0.8"/>
<circle cx="756.44" cy="1045.4" r="9.6" fill="#5e5e5e" stroke="#5e5e5e" stroke-width="0.8"/>
<circle cx="795.42" cy="999.63" r="9.6" fill="#5e5e5e" stroke="#5e5e5e" stroke-width="0.8"/>
<circle cx="837.5" cy="965.54" r="9.6" fill="#5e5e5e" stroke="#5e5e5e" stroke-width="0.8"/>
<circle cx="877.98" cy="948.58" r="9.6" fill="#5e5e5e" stroke="#5e5e5e" stroke-width="0.8"/>
<circle cx="915.66" cy="951.48" r="9.6" fill="#5e5e5e" stroke="#5e5e5e" stroke-width="0.8"/>
<circle cx="952.25" cy="971.2" r="9.6" fill="#5e5e5e" stroke="#5e5e5e" stroke-width="0.8"/>
<circle cx="987.23" cy="1005.8" r="9.6" fill="#5e5e5e" stroke="#5e5e5e" stroke-width="0.8"/>
<circle cx="1012.72" cy="1041.89" r="9.6" fill="#5e5e5e" stroke="#5e5e5e" stroke-width="0.8"/>
</g>
<line x1="156.7" y1="792.9" x2="156.7" y2="1349" stroke="#1c1c1c" stroke-width="1.8" />
<line x1="144.5" y1="1338" x2="591.9" y2="1338" stroke="#1c1c1c" stroke-width="1.8" />
<line x1="144.5" y1="792.9" x2="457.3" y2="792.9" stroke="#1c1c1c" stroke-width="1.8" />
<line x1="591.9" y1="792.9" x2="591.9" y2="1349" stroke="#1c1c1c" stroke-width="1.8" />
<line x1="144.5" y1="1338" x2="156.7" y2="1338" stroke="#1c1c1c" stroke-width="1.8" />
<text x="136.4" y="1347.1" font-size="32" text-anchor="end" >0.0</text>
<line x1="144.5" y1="1228.98" x2="156.7" y2="1228.98" stroke="#1c1c1c" stroke-width="1.8" />
<text x="136.4" y="1238.08" font-size="32" text-anchor="end" >0.2</text>
<line x1="144.5" y1="1119.96" x2="156.7" y2="1119.96" stroke="#1c1c1c" stroke-width="1.8" />
<text x="136.4" y="1129.06" font-size="32" text-anchor="end" >0.4</text>
<line x1="144.5" y1="1010.94" x2="156.7" y2="1010.94" stroke="#1c1c1c" stroke-width="1.8" />
<text x="136.4" y="1020.04" font-size="32" text-anchor="end" >0.6</text>
<line x1="144.5" y1="901.92" x2="156.7" y2="901.92" stroke="#1c1c1c" stroke-width="1.8" />
<text x="136.4" y="911.02" font-size="32" text-anchor="end" >0.8</text>
<line x1="144.5" y1="792.9" x2="156.7" y2="792.9" stroke="#1c1c1c" stroke-width="1.8" />
<text x="136.4" y="802" font-size="32" text-anchor="end" >1.0</text>
<line x1="150.5" y1="1283.49" x2="156.7" y2="1283.49" stroke="#1c1c1c" stroke-width="1.8" />
<line x1="150.5" y1="1174.47" x2="156.7" y2="1174.47" stroke="#1c1c1c" stroke-width="1.8" />
<line x1="150.5" y1="1065.45" x2="156.7" y2="1065.45" stroke="#1c1c1c" stroke-width="1.8" />
<line x1="150.5" y1="956.43" x2="156.7" y2="956.43" stroke="#1c1c1c" stroke-width="1.8" />
<line x1="150.5" y1="847.41" x2="156.7" y2="847.41" stroke="#1c1c1c" stroke-width="1.8" />
<line x1="156.7" y1="1338" x2="156.7" y2="1349" stroke="#1c1c1c" stroke-width="1.8" />
<line x1="301.77" y1="1338" x2="301.77" y2="1349" stroke="#1c1c1c" stroke-width="1.8" />
<line x1="446.83" y1="1338" x2="446.83" y2="1349" stroke="#1c1c1c" stroke-width="1.8" />
<line x1="591.9" y1="1338" x2="591.9" y2="1349" stroke="#1c1c1c" stroke-width="1.8" />
<line x1="229.23" y1="1338" x2="229.23" y2="1343.5" stroke="#1c1c1c" stroke-width="1.8" />
<line x1="374.3" y1="1338" x2="374.3" y2="1343.5" stroke="#1c1c1c" stroke-width="1.8" />
<line x1="519.37" y1="1338" x2="519.37" y2="1343.5" stroke="#1c1c1c" stroke-width="1.8" />
<text x="156.7" y="1381.1" font-size="32" text-anchor="middle" >0</text>
<text x="301.77" y="1381.1" font-size="32" text-anchor="middle" >1</text>
<text x="446.83" y="1381.1" font-size="32" text-anchor="middle" >2</text>
<text x="591.9" y="1381.1" font-size="32" text-anchor="middle" >3</text>
<line x1="615.5" y1="795.2" x2="615.5" y2="1347.5" stroke="#1c1c1c" stroke-width="1.8" />
<line x1="615.5" y1="1336.5" x2="1061.9" y2="1336.5" stroke="#1c1c1c" stroke-width="1.8" />
<line x1="737.6" y1="795.2" x2="1061.9" y2="795.2" stroke="#1c1c1c" stroke-width="1.8" />
<line x1="1050.5" y1="795.2" x2="1050.5" y2="1347.5" stroke="#1c1c1c" stroke-width="1.8" />
<line x1="1050.5" y1="1336.5" x2="1061.9" y2="1336.5" stroke="#1c1c1c" stroke-width="1.8" />
<text x="1070.3" y="1346.1" font-size="32" text-anchor="start" >0.0</text>
<line x1="1050.5" y1="1228.24" x2="1061.9" y2="1228.24" stroke="#1c1c1c" stroke-width="1.8" />
<text x="1070.3" y="1237.84" font-size="32" text-anchor="start" >0.2</text>
<line x1="1050.5" y1="1119.98" x2="1061.9" y2="1119.98" stroke="#1c1c1c" stroke-width="1.8" />
<text x="1070.3" y="1129.58" font-size="32" text-anchor="start" >0.4</text>
<line x1="1050.5" y1="1011.72" x2="1061.9" y2="1011.72" stroke="#1c1c1c" stroke-width="1.8" />
<text x="1070.3" y="1021.32" font-size="32" text-anchor="start" >0.6</text>
<line x1="1050.5" y1="903.46" x2="1061.9" y2="903.46" stroke="#1c1c1c" stroke-width="1.8" />
<text x="1070.3" y="913.06" font-size="32" text-anchor="start" >0.8</text>
<line x1="1050.5" y1="795.2" x2="1061.9" y2="795.2" stroke="#1c1c1c" stroke-width="1.8" />
<text x="1070.3" y="804.8" font-size="32" text-anchor="start" >1.0</text>
<line x1="1050.5" y1="1282.37" x2="1056.5" y2="1282.37" stroke="#1c1c1c" stroke-width="1.8" />
<line x1="1050.5" y1="1174.11" x2="1056.5" y2="1174.11" stroke="#1c1c1c" stroke-width="1.8" />
<line x1="1050.5" y1="1065.85" x2="1056.5" y2="1065.85" stroke="#1c1c1c" stroke-width="1.8" />
<line x1="1050.5" y1="957.59" x2="1056.5" y2="957.59" stroke="#1c1c1c" stroke-width="1.8" />
<line x1="1050.5" y1="849.33" x2="1056.5" y2="849.33" stroke="#1c1c1c" stroke-width="1.8" />
<line x1="615.5" y1="1336.5" x2="615.5" y2="1347.5" stroke="#1c1c1c" stroke-width="1.8" />
<line x1="760.5" y1="1336.5" x2="760.5" y2="1347.5" stroke="#1c1c1c" stroke-width="1.8" />
<line x1="905.5" y1="1336.5" x2="905.5" y2="1347.5" stroke="#1c1c1c" stroke-width="1.8" />
<line x1="1050.5" y1="1336.5" x2="1050.5" y2="1347.5" stroke="#1c1c1c" stroke-width="1.8" />
<line x1="688" y1="1336.5" x2="688" y2="1342" stroke="#1c1c1c" stroke-width="1.8" />
<line x1="833" y1="1336.5" x2="833" y2="1342" stroke="#1c1c1c" stroke-width="1.8" />
<line x1="978" y1="1336.5" x2="978" y2="1342" stroke="#1c1c1c" stroke-width="1.8" />
<text x="615.5" y="1379.6" font-size="32" text-anchor="middle" >0</text>
<text x="760.5" y="1379.6" font-size="32" text-anchor="middle" >1</text>
<text x="905.5" y="1379.6" font-size="32" text-anchor="middle" >2</text>
<text x="1050.5" y="1379.6" font-size="32" text-anchor="middle" >3</text>
<rect x="457.3" y="772.9" width="280.3" height="45" fill="#fff"/>
<rect x="480" y="827.1" width="250" height="139.2" fill="#fff"/>
<text x="462.5" y="805.5" font-size="32" text-anchor="start" >Cathode Pt loading</text>
<line x1="488.4" y1="850.7" x2="552.3" y2="850.7" stroke="#4f4f4f" stroke-width="2.6" />
<circle cx="520.5" cy="850.7" r="9.6" fill="#5e5e5e" stroke="#5e5e5e" stroke-width="0.8"/>
<text x="561" y="859.7" font-size="28.7" text-anchor="start" >0.6 mg cm<tspan font-size="20" dy="-11.5" dx="1">-2</tspan></text>
<line x1="488.4" y1="898.7" x2="552.3" y2="898.7" stroke="#d93131" stroke-width="2.6" />
<polygon points="520.5,885.9 531.8,905.1 509.2,905.1" fill="#ef3b3b" stroke="#d42a2a" stroke-width="0.8" stroke-linejoin="miter"/>
<text x="561" y="907.7" font-size="28.7" text-anchor="start" >0.3 mg cm<tspan font-size="20" dy="-11.5" dx="1">-2</tspan></text>
<line x1="488.4" y1="946.7" x2="552.3" y2="946.7" stroke="#1a5cc4" stroke-width="2.6" />
<rect x="512.4" y="938.4" width="16.6" height="16.6" fill="#1f6ee0" stroke="#1a62d0" stroke-width="0.8"/>
<text x="561" y="955.7" font-size="28.7" text-anchor="start" >0.1 mg cm<tspan font-size="20" dy="-11.5" dx="1">-2</tspan></text>
<text x="406.5" y="1431.6" font-size="34.4" text-anchor="start" word-spacing="1.2">Current density (A cm<tspan font-size="24" dy="-13.8" dx="1.5">-2</tspan><tspan dy="13.8" dx="0.5">)</tspan></text>
<text transform="translate(54,1183.3) rotate(-90)" font-size="33.9" text-anchor="start">Cell voltage (V)</text>
<text transform="translate(1163.4,1234.9) rotate(-90)" font-size="33.2" text-anchor="start">Power density (W cm<tspan font-size="22.5" dy="-13.3">-2</tspan><tspan dy="13.3">)</tspan></text>
<text x="0" y="806" font-size="33" font-weight="bold">b</text>
<clipPath id="c6"><rect x="1350" y="790" width="452.6" height="542.8"/></clipPath>
<g clip-path="url(#c6)">
<polyline points="1350.5,1217 1353.8,1218.7 1359.4,1223.5 1367,1225.6 1377.3,1228.4 1392.5,1228.4 1411.9,1232.8 1434,1233.2 1457.5,1236.4 1482.4,1237.4 1505.9,1238.3 1528.7,1240.6 1550.8,1241.1 1572.3,1243.3 1587.3,1245" fill="none" stroke="#1f6ee0" stroke-width="2.0" stroke-linejoin="round"/>
<rect x="1342.9" y="1209.4" width="15.2" height="15.2" fill="#fff" stroke="#1f6ee0" stroke-width="2.1"/>
<rect x="1346.2" y="1211.1" width="15.2" height="15.2" fill="#fff" stroke="#1f6ee0" stroke-width="2.1"/>
<rect x="1351.8" y="1215.9" width="15.2" height="15.2" fill="#fff" stroke="#1f6ee0" stroke-width="2.1"/>
<rect x="1359.4" y="1218" width="15.2" height="15.2" fill="#fff" stroke="#1f6ee0" stroke-width="2.1"/>
<rect x="1369.7" y="1220.8" width="15.2" height="15.2" fill="#fff" stroke="#1f6ee0" stroke-width="2.1"/>
<rect x="1384.9" y="1220.8" width="15.2" height="15.2" fill="#fff" stroke="#1f6ee0" stroke-width="2.1"/>
<rect x="1404.3" y="1225.2" width="15.2" height="15.2" fill="#fff" stroke="#1f6ee0" stroke-width="2.1"/>
<rect x="1426.4" y="1225.6" width="15.2" height="15.2" fill="#fff" stroke="#1f6ee0" stroke-width="2.1"/>
<rect x="1449.9" y="1228.8" width="15.2" height="15.2" fill="#fff" stroke="#1f6ee0" stroke-width="2.1"/>
<rect x="1474.8" y="1229.8" width="15.2" height="15.2" fill="#fff" stroke="#1f6ee0" stroke-width="2.1"/>
<rect x="1498.3" y="1230.7" width="15.2" height="15.2" fill="#fff" stroke="#1f6ee0" stroke-width="2.1"/>
<rect x="1521.1" y="1233" width="15.2" height="15.2" fill="#fff" stroke="#1f6ee0" stroke-width="2.1"/>
<rect x="1543.2" y="1233.5" width="15.2" height="15.2" fill="#fff" stroke="#1f6ee0" stroke-width="2.1"/>
<rect x="1564.7" y="1235.7" width="15.2" height="15.2" fill="#fff" stroke="#1f6ee0" stroke-width="2.1"/>
<rect x="1579.7" y="1237.4" width="15.2" height="15.2" fill="#fff" stroke="#1f6ee0" stroke-width="2.1"/>
</g>
<g clip-path="url(#c6)">
<polyline points="1350.2,1246 1353.1,1248 1360.7,1250.8 1373.2,1252.8 1393.9,1254.9 1420.9,1255.6 1453.4,1258.4 1488.6,1259.1 1528,1260.7 1570.2,1261.8 1610.1,1262 1648.1,1263.4 1684.1,1264.1 1719.3,1265.1 1745.3,1266.2" fill="none" stroke="#ef3b3b" stroke-width="2.0" stroke-linejoin="round"/>
<polygon points="1350.2,1233.33 1361.2,1252.33 1339.2,1252.33" fill="#fff" stroke="#ef3b3b" stroke-width="2.1" stroke-linejoin="miter"/>
<polygon points="1353.1,1235.33 1364.1,1254.33 1342.1,1254.33" fill="#fff" stroke="#ef3b3b" stroke-width="2.1" stroke-linejoin="miter"/>
<polygon points="1360.7,1238.13 1371.7,1257.13 1349.7,1257.13" fill="#fff" stroke="#ef3b3b" stroke-width="2.1" stroke-linejoin="miter"/>
<polygon points="1373.2,1240.13 1384.2,1259.13 1362.2,1259.13" fill="#fff" stroke="#ef3b3b" stroke-width="2.1" stroke-linejoin="miter"/>
<polygon points="1393.9,1242.23 1404.9,1261.23 1382.9,1261.23" fill="#fff" stroke="#ef3b3b" stroke-width="2.1" stroke-linejoin="miter"/>
<polygon points="1420.9,1242.93 1431.9,1261.93 1409.9,1261.93" fill="#fff" stroke="#ef3b3b" stroke-width="2.1" stroke-linejoin="miter"/>
<polygon points="1453.4,1245.73 1464.4,1264.73 1442.4,1264.73" fill="#fff" stroke="#ef3b3b" stroke-width="2.1" stroke-linejoin="miter"/>
<polygon points="1488.6,1246.43 1499.6,1265.43 1477.6,1265.43" fill="#fff" stroke="#ef3b3b" stroke-width="2.1" stroke-linejoin="miter"/>
<polygon points="1528,1248.03 1539,1267.03 1517,1267.03" fill="#fff" stroke="#ef3b3b" stroke-width="2.1" stroke-linejoin="miter"/>
<polygon points="1570.2,1249.13 1581.2,1268.13 1559.2,1268.13" fill="#fff" stroke="#ef3b3b" stroke-width="2.1" stroke-linejoin="miter"/>
<polygon points="1610.1,1249.33 1621.1,1268.33 1599.1,1268.33" fill="#fff" stroke="#ef3b3b" stroke-width="2.1" stroke-linejoin="miter"/>
<polygon points="1648.1,1250.73 1659.1,1269.73 1637.1,1269.73" fill="#fff" stroke="#ef3b3b" stroke-width="2.1" stroke-linejoin="miter"/>
<polygon points="1684.1,1251.43 1695.1,1270.43 1673.1,1270.43" fill="#fff" stroke="#ef3b3b" stroke-width="2.1" stroke-linejoin="miter"/>
<polygon points="1719.3,1252.43 1730.3,1271.43 1708.3,1271.43" fill="#fff" stroke="#ef3b3b" stroke-width="2.1" stroke-linejoin="miter"/>
<polygon points="1745.3,1253.53 1756.3,1272.53 1734.3,1272.53" fill="#fff" stroke="#ef3b3b" stroke-width="2.1" stroke-linejoin="miter"/>
</g>
<g clip-path="url(#c6)">
<polyline points="1350.5,1249 1354.5,1249.8 1360.7,1253.3 1374.6,1254.7 1396.4,1256.5 1425,1256.5 1458.9,1259.5 1496.9,1259.8 1538.4,1261.8 1582.4,1263 1623.9,1263.6 1664,1265 1702,1265.7 1738,1266.8 1765.6,1267.8" fill="none" stroke="#5e5e5e" stroke-width="2.0" stroke-linejoin="round"/>
<circle cx="1350.5" cy="1249" r="8.5" fill="#fff" stroke="#4f4f4f" stroke-width="2.1"/>
<circle cx="1354.5" cy="1249.8" r="8.5" fill="#fff" stroke="#4f4f4f" stroke-width="2.1"/>
<circle cx="1360.7" cy="1253.3" r="8.5" fill="#fff" stroke="#4f4f4f" stroke-width="2.1"/>
<circle cx="1374.6" cy="1254.7" r="8.5" fill="#fff" stroke="#4f4f4f" stroke-width="2.1"/>
<circle cx="1396.4" cy="1256.5" r="8.5" fill="#fff" stroke="#4f4f4f" stroke-width="2.1"/>
<circle cx="1425" cy="1256.5" r="8.5" fill="#fff" stroke="#4f4f4f" stroke-width="2.1"/>
<circle cx="1458.9" cy="1259.5" r="8.5" fill="#fff" stroke="#4f4f4f" stroke-width="2.1"/>
<circle cx="1496.9" cy="1259.8" r="8.5" fill="#fff" stroke="#4f4f4f" stroke-width="2.1"/>
<circle cx="1538.4" cy="1261.8" r="8.5" fill="#fff" stroke="#4f4f4f" stroke-width="2.1"/>
<circle cx="1582.4" cy="1263" r="8.5" fill="#fff" stroke="#4f4f4f" stroke-width="2.1"/>
<circle cx="1623.9" cy="1263.6" r="8.5" fill="#fff" stroke="#4f4f4f" stroke-width="2.1"/>
<circle cx="1664" cy="1265" r="8.5" fill="#fff" stroke="#4f4f4f" stroke-width="2.1"/>
<circle cx="1702" cy="1265.7" r="8.5" fill="#fff" stroke="#4f4f4f" stroke-width="2.1"/>
<circle cx="1738" cy="1266.8" r="8.5" fill="#fff" stroke="#4f4f4f" stroke-width="2.1"/>
<circle cx="1765.6" cy="1267.8" r="8.5" fill="#fff" stroke="#4f4f4f" stroke-width="2.1"/>
</g>
<rect x="1350" y="790" width="452.6" height="542.8" fill="none" stroke="#1c1c1c" stroke-width="1.5"/>
<line x1="1340" y1="1332.8" x2="1350" y2="1332.8" stroke="#1c1c1c" stroke-width="1.5" />
<text x="1332.5" y="1341.7" font-size="29.2" text-anchor="end" >0.0</text>
<line x1="1340" y1="1197.1" x2="1350" y2="1197.1" stroke="#1c1c1c" stroke-width="1.5" />
<text x="1332.5" y="1206" font-size="29.2" text-anchor="end" >0.1</text>
<line x1="1340" y1="1061.4" x2="1350" y2="1061.4" stroke="#1c1c1c" stroke-width="1.5" />
<text x="1332.5" y="1070.3" font-size="29.2" text-anchor="end" >0.2</text>
<line x1="1340" y1="925.7" x2="1350" y2="925.7" stroke="#1c1c1c" stroke-width="1.5" />
<text x="1332.5" y="934.6" font-size="29.2" text-anchor="end" >0.3</text>
<line x1="1340" y1="790" x2="1350" y2="790" stroke="#1c1c1c" stroke-width="1.5" />
<text x="1332.5" y="798.9" font-size="29.2" text-anchor="end" >0.4</text>
<line x1="1345" y1="1264.95" x2="1350" y2="1264.95" stroke="#1c1c1c" stroke-width="1.5" />
<line x1="1345" y1="1129.25" x2="1350" y2="1129.25" stroke="#1c1c1c" stroke-width="1.5" />
<line x1="1345" y1="993.55" x2="1350" y2="993.55" stroke="#1c1c1c" stroke-width="1.5" />
<line x1="1345" y1="857.85" x2="1350" y2="857.85" stroke="#1c1c1c" stroke-width="1.5" />
<line x1="1350" y1="1332.8" x2="1350" y2="1342.8" stroke="#1c1c1c" stroke-width="1.5" />
<text x="1350" y="1372.3" font-size="29.2" text-anchor="middle" >0.0</text>
<line x1="1425.43" y1="1332.8" x2="1425.43" y2="1342.8" stroke="#1c1c1c" stroke-width="1.5" />
<text x="1425.43" y="1372.3" font-size="29.2" text-anchor="middle" >0.5</text>
<line x1="1500.87" y1="1332.8" x2="1500.87" y2="1342.8" stroke="#1c1c1c" stroke-width="1.5" />
<text x="1500.87" y="1372.3" font-size="29.2" text-anchor="middle" >1.0</text>
<line x1="1576.3" y1="1332.8" x2="1576.3" y2="1342.8" stroke="#1c1c1c" stroke-width="1.5" />
<text x="1576.3" y="1372.3" font-size="29.2" text-anchor="middle" >1.5</text>
<line x1="1651.73" y1="1332.8" x2="1651.73" y2="1342.8" stroke="#1c1c1c" stroke-width="1.5" />
<text x="1651.73" y="1372.3" font-size="29.2" text-anchor="middle" >2.0</text>
<line x1="1727.17" y1="1332.8" x2="1727.17" y2="1342.8" stroke="#1c1c1c" stroke-width="1.5" />
<text x="1727.17" y="1372.3" font-size="29.2" text-anchor="middle" >2.5</text>
<line x1="1802.6" y1="1332.8" x2="1802.6" y2="1342.8" stroke="#1c1c1c" stroke-width="1.5" />
<text x="1802.6" y="1372.3" font-size="29.2" text-anchor="middle" >3.0</text>
<line x1="1387.72" y1="1332.8" x2="1387.72" y2="1337.8" stroke="#1c1c1c" stroke-width="1.5" />
<line x1="1463.15" y1="1332.8" x2="1463.15" y2="1337.8" stroke="#1c1c1c" stroke-width="1.5" />
<line x1="1538.58" y1="1332.8" x2="1538.58" y2="1337.8" stroke="#1c1c1c" stroke-width="1.5" />
<line x1="1614.02" y1="1332.8" x2="1614.02" y2="1337.8" stroke="#1c1c1c" stroke-width="1.5" />
<line x1="1689.45" y1="1332.8" x2="1689.45" y2="1337.8" stroke="#1c1c1c" stroke-width="1.5" />
<line x1="1764.88" y1="1332.8" x2="1764.88" y2="1337.8" stroke="#1c1c1c" stroke-width="1.5" />
<text x="1409.5" y="1420.3" font-size="31" text-anchor="start" >Current density (A cm<tspan font-size="22" dy="-13.5" dx="1.5">-2</tspan><tspan dy="13.5" dx="0.5">)</tspan></text>
<text transform="translate(1276.5,1158.3) rotate(-90)" font-size="31" text-anchor="start">HFR (ohm*cm<tspan font-size="21.5" dy="-13">2</tspan><tspan dy="13">)</tspan></text>
<text x="1776.8" y="838.4" font-size="28.4" text-anchor="end" >160 <tspan font-size="32" dy="1.6">°</tspan><tspan dy="-1.6">C,</tspan><tspan dx="2"> 148 kPa</tspan></text>
<clipPath id="c7"><rect x="156.7" y="1564.7" width="434.9" height="545.3"/></clipPath>
<clipPath id="c8"><rect x="615.2" y="1567" width="434.6" height="541.2"/></clipPath>
<g clip-path="url(#c7)">
<polyline points="156.8,1613.1 157,1660 160,1704 170,1732.4 178.7,1760.3 188.4,1788.1 199.2,1815.6 211.2,1843.3 224.1,1871.8 236.2,1899.5 247.4,1927.5 258.6,1955.6 269.2,1984.2 276.8,2004" fill="none" stroke="#1a5cc4" stroke-width="2.6" stroke-linejoin="round"/>
<rect x="148.2" y="1604.5" width="17.2" height="17.2" fill="#1f6ee0" stroke="#1a62d0" stroke-width="0.8"/>
<rect x="148.4" y="1651.4" width="17.2" height="17.2" fill="#1f6ee0" stroke="#1a62d0" stroke-width="0.8"/>
<rect x="151.4" y="1695.4" width="17.2" height="17.2" fill="#1f6ee0" stroke="#1a62d0" stroke-width="0.8"/>
<rect x="161.4" y="1723.8" width="17.2" height="17.2" fill="#1f6ee0" stroke="#1a62d0" stroke-width="0.8"/>
<rect x="170.1" y="1751.7" width="17.2" height="17.2" fill="#1f6ee0" stroke="#1a62d0" stroke-width="0.8"/>
<rect x="179.8" y="1779.5" width="17.2" height="17.2" fill="#1f6ee0" stroke="#1a62d0" stroke-width="0.8"/>
<rect x="190.6" y="1807" width="17.2" height="17.2" fill="#1f6ee0" stroke="#1a62d0" stroke-width="0.8"/>
<rect x="202.6" y="1834.7" width="17.2" height="17.2" fill="#1f6ee0" stroke="#1a62d0" stroke-width="0.8"/>
<rect x="215.5" y="1863.2" width="17.2" height="17.2" fill="#1f6ee0" stroke="#1a62d0" stroke-width="0.8"/>
<rect x="227.6" y="1890.9" width="17.2" height="17.2" fill="#1f6ee0" stroke="#1a62d0" stroke-width="0.8"/>
<rect x="238.8" y="1918.9" width="17.2" height="17.2" fill="#1f6ee0" stroke="#1a62d0" stroke-width="0.8"/>
<rect x="250" y="1947" width="17.2" height="17.2" fill="#1f6ee0" stroke="#1a62d0" stroke-width="0.8"/>
<rect x="260.6" y="1975.6" width="17.2" height="17.2" fill="#1f6ee0" stroke="#1a62d0" stroke-width="0.8"/>
<rect x="268.2" y="1995.4" width="17.2" height="17.2" fill="#1f6ee0" stroke="#1a62d0" stroke-width="0.8"/>
</g>
<g clip-path="url(#c7)">
<polyline points="157.5,1606.9 159.2,1645.2 163.3,1670.9 171.2,1700 181.5,1728.8 198.2,1757.3 219,1784.6 243.1,1811.9 267.2,1840.4 293.1,1868.8 317.2,1897.1 340.5,1924.9 363,1953.4 384.3,1982.5 399.8,2002.7" fill="none" stroke="#d93131" stroke-width="2.6" stroke-linejoin="round"/>
<polygon points="157.5,1594.1 168.8,1613.3 146.2,1613.3" fill="#ef3b3b" stroke="#d42a2a" stroke-width="0.8" stroke-linejoin="miter"/>
<polygon points="159.2,1632.4 170.5,1651.6 147.9,1651.6" fill="#ef3b3b" stroke="#d42a2a" stroke-width="0.8" stroke-linejoin="miter"/>
<polygon points="163.3,1658.1 174.6,1677.3 152,1677.3" fill="#ef3b3b" stroke="#d42a2a" stroke-width="0.8" stroke-linejoin="miter"/>
<polygon points="171.2,1687.2 182.5,1706.4 159.9,1706.4" fill="#ef3b3b" stroke="#d42a2a" stroke-width="0.8" stroke-linejoin="miter"/>
<polygon points="181.5,1716 192.8,1735.2 170.2,1735.2" fill="#ef3b3b" stroke="#d42a2a" stroke-width="0.8" stroke-linejoin="miter"/>
<polygon points="198.2,1744.5 209.5,1763.7 186.9,1763.7" fill="#ef3b3b" stroke="#d42a2a" stroke-width="0.8" stroke-linejoin="miter"/>
<polygon points="219,1771.8 230.3,1791 207.7,1791" fill="#ef3b3b" stroke="#d42a2a" stroke-width="0.8" stroke-linejoin="miter"/>
<polygon points="243.1,1799.1 254.4,1818.3 231.8,1818.3" fill="#ef3b3b" stroke="#d42a2a" stroke-width="0.8" stroke-linejoin="miter"/>
<polygon points="267.2,1827.6 278.5,1846.8 255.9,1846.8" fill="#ef3b3b" stroke="#d42a2a" stroke-width="0.8" stroke-linejoin="miter"/>
<polygon points="293.1,1856 304.4,1875.2 281.8,1875.2" fill="#ef3b3b" stroke="#d42a2a" stroke-width="0.8" stroke-linejoin="miter"/>
<polygon points="317.2,1884.3 328.5,1903.5 305.9,1903.5" fill="#ef3b3b" stroke="#d42a2a" stroke-width="0.8" stroke-linejoin="miter"/>
<polygon points="340.5,1912.1 351.8,1931.3 329.2,1931.3" fill="#ef3b3b" stroke="#d42a2a" stroke-width="0.8" stroke-linejoin="miter"/>
<polygon points="363,1940.6 374.3,1959.8 351.7,1959.8" fill="#ef3b3b" stroke="#d42a2a" stroke-width="0.8" stroke-linejoin="miter"/>
<polygon points="384.3,1969.7 395.6,1988.9 373,1988.9" fill="#ef3b3b" stroke="#d42a2a" stroke-width="0.8" stroke-linejoin="miter"/>
<polygon points="399.8,1989.9 411.1,2009.1 388.5,2009.1" fill="#ef3b3b" stroke="#d42a2a" stroke-width="0.8" stroke-linejoin="miter"/>
</g>
<g clip-path="url(#c7)">
<polyline points="157,1612 159.5,1648.2 166,1676.7 175.1,1704.8 191.1,1732.4 211.3,1760.1 236.4,1788.1 264.3,1815.7 294,1843.6 326.4,1871.5 356.6,1899.8 386,1927.5 413.3,1955.6 440.1,1983.8 459.6,2004" fill="none" stroke="#4f4f4f" stroke-width="2.6" stroke-linejoin="round"/>
<circle cx="157" cy="1612" r="9.6" fill="#5e5e5e" stroke="#5e5e5e" stroke-width="0.8"/>
<circle cx="159.5" cy="1648.2" r="9.6" fill="#5e5e5e" stroke="#5e5e5e" stroke-width="0.8"/>
<circle cx="166" cy="1676.7" r="9.6" fill="#5e5e5e" stroke="#5e5e5e" stroke-width="0.8"/>
<circle cx="175.1" cy="1704.8" r="9.6" fill="#5e5e5e" stroke="#5e5e5e" stroke-width="0.8"/>
<circle cx="191.1" cy="1732.4" r="9.6" fill="#5e5e5e" stroke="#5e5e5e" stroke-width="0.8"/>
<circle cx="211.3" cy="1760.1" r="9.6" fill="#5e5e5e" stroke="#5e5e5e" stroke-width="0.8"/>
<circle cx="236.4" cy="1788.1" r="9.6" fill="#5e5e5e" stroke="#5e5e5e" stroke-width="0.8"/>
<circle cx="264.3" cy="1815.7" r="9.6" fill="#5e5e5e" stroke="#5e5e5e" stroke-width="0.8"/>
<circle cx="294" cy="1843.6" r="9.6" fill="#5e5e5e" stroke="#5e5e5e" stroke-width="0.8"/>
<circle cx="326.4" cy="1871.5" r="9.6" fill="#5e5e5e" stroke="#5e5e5e" stroke-width="0.8"/>
<circle cx="356.6" cy="1899.8" r="9.6" fill="#5e5e5e" stroke="#5e5e5e" stroke-width="0.8"/>
<circle cx="386" cy="1927.5" r="9.6" fill="#5e5e5e" stroke="#5e5e5e" stroke-width="0.8"/>
<circle cx="413.3" cy="1955.6" r="9.6" fill="#5e5e5e" stroke="#5e5e5e" stroke-width="0.8"/>
<circle cx="440.1" cy="1983.8" r="9.6" fill="#5e5e5e" stroke="#5e5e5e" stroke-width="0.8"/>
<circle cx="459.6" cy="2004" r="9.6" fill="#5e5e5e" stroke="#5e5e5e" stroke-width="0.8"/>
</g>
<g clip-path="url(#c8)">
<polyline points="615.3,2107.86 615.5,2107.28 618.5,2099.03 628.49,2073.82 637.18,2055.53 646.88,2038.34 657.67,2022.54 669.66,2008.69 682.55,1998.29 694.65,1993.63 705.84,1994.88 717.03,2000.49 727.62,2011.31 735.22,2021.04" fill="none" stroke="#1a5cc4" stroke-width="2.6" stroke-linejoin="round"/>
<rect x="606.7" y="2099.26" width="17.2" height="17.2" fill="#1f6ee0" stroke="#1a62d0" stroke-width="0.8"/>
<rect x="606.9" y="2098.68" width="17.2" height="17.2" fill="#1f6ee0" stroke="#1a62d0" stroke-width="0.8"/>
<rect x="609.9" y="2090.43" width="17.2" height="17.2" fill="#1f6ee0" stroke="#1a62d0" stroke-width="0.8"/>
<rect x="619.89" y="2065.22" width="17.2" height="17.2" fill="#1f6ee0" stroke="#1a62d0" stroke-width="0.8"/>
<rect x="628.58" y="2046.93" width="17.2" height="17.2" fill="#1f6ee0" stroke="#1a62d0" stroke-width="0.8"/>
<rect x="638.28" y="2029.74" width="17.2" height="17.2" fill="#1f6ee0" stroke="#1a62d0" stroke-width="0.8"/>
<rect x="649.07" y="2013.94" width="17.2" height="17.2" fill="#1f6ee0" stroke="#1a62d0" stroke-width="0.8"/>
<rect x="661.06" y="2000.09" width="17.2" height="17.2" fill="#1f6ee0" stroke="#1a62d0" stroke-width="0.8"/>
<rect x="673.95" y="1989.69" width="17.2" height="17.2" fill="#1f6ee0" stroke="#1a62d0" stroke-width="0.8"/>
<rect x="686.05" y="1985.03" width="17.2" height="17.2" fill="#1f6ee0" stroke="#1a62d0" stroke-width="0.8"/>
<rect x="697.24" y="1986.28" width="17.2" height="17.2" fill="#1f6ee0" stroke="#1a62d0" stroke-width="0.8"/>
<rect x="708.43" y="1991.89" width="17.2" height="17.2" fill="#1f6ee0" stroke="#1a62d0" stroke-width="0.8"/>
<rect x="719.02" y="2002.71" width="17.2" height="17.2" fill="#1f6ee0" stroke="#1a62d0" stroke-width="0.8"/>
<rect x="726.62" y="2012.44" width="17.2" height="17.2" fill="#1f6ee0" stroke="#1a62d0" stroke-width="0.8"/>
</g>
<g clip-path="url(#c8)">
<polyline points="616,2105.47 617.7,2100.31 621.8,2088.52 629.69,2067.82 639.98,2043.99 656.67,2008.79 677.46,1970.52 701.54,1933.28 725.62,1905.88 751.51,1884.76 775.59,1876.13 798.87,1877.14 821.36,1888.79 842.64,1911.12 858.13,1931.05" fill="none" stroke="#d93131" stroke-width="2.6" stroke-linejoin="round"/>
<polygon points="616,2092.67 627.3,2111.87 604.7,2111.87" fill="#ef3b3b" stroke="#d42a2a" stroke-width="0.8" stroke-linejoin="miter"/>
<polygon points="617.7,2087.51 629,2106.71 606.4,2106.71" fill="#ef3b3b" stroke="#d42a2a" stroke-width="0.8" stroke-linejoin="miter"/>
<polygon points="621.8,2075.72 633.1,2094.92 610.5,2094.92" fill="#ef3b3b" stroke="#d42a2a" stroke-width="0.8" stroke-linejoin="miter"/>
<polygon points="629.69,2055.02 640.99,2074.22 618.39,2074.22" fill="#ef3b3b" stroke="#d42a2a" stroke-width="0.8" stroke-linejoin="miter"/>
<polygon points="639.98,2031.19 651.28,2050.39 628.68,2050.39" fill="#ef3b3b" stroke="#d42a2a" stroke-width="0.8" stroke-linejoin="miter"/>
<polygon points="656.67,1995.99 667.97,2015.19 645.37,2015.19" fill="#ef3b3b" stroke="#d42a2a" stroke-width="0.8" stroke-linejoin="miter"/>
<polygon points="677.46,1957.72 688.76,1976.92 666.16,1976.92" fill="#ef3b3b" stroke="#d42a2a" stroke-width="0.8" stroke-linejoin="miter"/>
<polygon points="701.54,1920.48 712.84,1939.68 690.24,1939.68" fill="#ef3b3b" stroke="#d42a2a" stroke-width="0.8" stroke-linejoin="miter"/>
<polygon points="725.62,1893.08 736.92,1912.28 714.32,1912.28" fill="#ef3b3b" stroke="#d42a2a" stroke-width="0.8" stroke-linejoin="miter"/>
<polygon points="751.51,1871.96 762.81,1891.16 740.21,1891.16" fill="#ef3b3b" stroke="#d42a2a" stroke-width="0.8" stroke-linejoin="miter"/>
<polygon points="775.59,1863.33 786.89,1882.53 764.29,1882.53" fill="#ef3b3b" stroke="#d42a2a" stroke-width="0.8" stroke-linejoin="miter"/>
<polygon points="798.87,1864.34 810.17,1883.54 787.57,1883.54" fill="#ef3b3b" stroke="#d42a2a" stroke-width="0.8" stroke-linejoin="miter"/>
<polygon points="821.36,1875.99 832.66,1895.19 810.06,1895.19" fill="#ef3b3b" stroke="#d42a2a" stroke-width="0.8" stroke-linejoin="miter"/>
<polygon points="842.64,1898.32 853.94,1917.52 831.34,1917.52" fill="#ef3b3b" stroke="#d42a2a" stroke-width="0.8" stroke-linejoin="miter"/>
<polygon points="858.13,1918.25 869.43,1937.45 846.83,1937.45" fill="#ef3b3b" stroke="#d42a2a" stroke-width="0.8" stroke-linejoin="miter"/>
</g>
<g clip-path="url(#c8)">
<polyline points="615.5,2107.2 618,2099.57 624.49,2081.3 633.59,2058.43 649.58,2021.49 669.76,1980.67 694.85,1936.95 722.73,1896.82 752.41,1864.05 784.78,1838.04 814.96,1827.72 844.34,1828.86 871.62,1843.74 898.4,1869.46 917.89,1893.88" fill="none" stroke="#4f4f4f" stroke-width="2.6" stroke-linejoin="round"/>
<circle cx="615.5" cy="2107.2" r="9.6" fill="#5e5e5e" stroke="#5e5e5e" stroke-width="0.8"/>
<circle cx="618" cy="2099.57" r="9.6" fill="#5e5e5e" stroke="#5e5e5e" stroke-width="0.8"/>
<circle cx="624.49" cy="2081.3" r="9.6" fill="#5e5e5e" stroke="#5e5e5e" stroke-width="0.8"/>
<circle cx="633.59" cy="2058.43" r="9.6" fill="#5e5e5e" stroke="#5e5e5e" stroke-width="0.8"/>
<circle cx="649.58" cy="2021.49" r="9.6" fill="#5e5e5e" stroke="#5e5e5e" stroke-width="0.8"/>
<circle cx="669.76" cy="1980.67" r="9.6" fill="#5e5e5e" stroke="#5e5e5e" stroke-width="0.8"/>
<circle cx="694.85" cy="1936.95" r="9.6" fill="#5e5e5e" stroke="#5e5e5e" stroke-width="0.8"/>
<circle cx="722.73" cy="1896.82" r="9.6" fill="#5e5e5e" stroke="#5e5e5e" stroke-width="0.8"/>
<circle cx="752.41" cy="1864.05" r="9.6" fill="#5e5e5e" stroke="#5e5e5e" stroke-width="0.8"/>
<circle cx="784.78" cy="1838.04" r="9.6" fill="#5e5e5e" stroke="#5e5e5e" stroke-width="0.8"/>
<circle cx="814.96" cy="1827.72" r="9.6" fill="#5e5e5e" stroke="#5e5e5e" stroke-width="0.8"/>
<circle cx="844.34" cy="1828.86" r="9.6" fill="#5e5e5e" stroke="#5e5e5e" stroke-width="0.8"/>
<circle cx="871.62" cy="1843.74" r="9.6" fill="#5e5e5e" stroke="#5e5e5e" stroke-width="0.8"/>
<circle cx="898.4" cy="1869.46" r="9.6" fill="#5e5e5e" stroke="#5e5e5e" stroke-width="0.8"/>
<circle cx="917.89" cy="1893.88" r="9.6" fill="#5e5e5e" stroke="#5e5e5e" stroke-width="0.8"/>
</g>
<line x1="156.7" y1="1564.7" x2="156.7" y2="2121" stroke="#1c1c1c" stroke-width="1.8" />
<line x1="144.5" y1="2110" x2="591.6" y2="2110" stroke="#1c1c1c" stroke-width="1.8" />
<line x1="144.5" y1="1564.7" x2="457.3" y2="1564.7" stroke="#1c1c1c" stroke-width="1.8" />
<line x1="591.6" y1="1564.7" x2="591.6" y2="2121" stroke="#1c1c1c" stroke-width="1.8" />
<line x1="144.5" y1="2110" x2="156.7" y2="2110" stroke="#1c1c1c" stroke-width="1.8" />
<text x="136.4" y="2119.1" font-size="32" text-anchor="end" >0.0</text>
<line x1="144.5" y1="2000.94" x2="156.7" y2="2000.94" stroke="#1c1c1c" stroke-width="1.8" />
<text x="136.4" y="2010.04" font-size="32" text-anchor="end" >0.2</text>
<line x1="144.5" y1="1891.88" x2="156.7" y2="1891.88" stroke="#1c1c1c" stroke-width="1.8" />
<text x="136.4" y="1900.98" font-size="32" text-anchor="end" >0.4</text>
<line x1="144.5" y1="1782.82" x2="156.7" y2="1782.82" stroke="#1c1c1c" stroke-width="1.8" />
<text x="136.4" y="1791.92" font-size="32" text-anchor="end" >0.6</text>
<line x1="144.5" y1="1673.76" x2="156.7" y2="1673.76" stroke="#1c1c1c" stroke-width="1.8" />
<text x="136.4" y="1682.86" font-size="32" text-anchor="end" >0.8</text>
<line x1="144.5" y1="1564.7" x2="156.7" y2="1564.7" stroke="#1c1c1c" stroke-width="1.8" />
<text x="136.4" y="1573.8" font-size="32" text-anchor="end" >1.0</text>
<line x1="150.5" y1="2055.47" x2="156.7" y2="2055.47" stroke="#1c1c1c" stroke-width="1.8" />
<line x1="150.5" y1="1946.41" x2="156.7" y2="1946.41" stroke="#1c1c1c" stroke-width="1.8" />
<line x1="150.5" y1="1837.35" x2="156.7" y2="1837.35" stroke="#1c1c1c" stroke-width="1.8" />
<line x1="150.5" y1="1728.29" x2="156.7" y2="1728.29" stroke="#1c1c1c" stroke-width="1.8" />
<line x1="150.5" y1="1619.23" x2="156.7" y2="1619.23" stroke="#1c1c1c" stroke-width="1.8" />
<line x1="156.7" y1="2110" x2="156.7" y2="2121" stroke="#1c1c1c" stroke-width="1.8" />
<line x1="301.67" y1="2110" x2="301.67" y2="2121" stroke="#1c1c1c" stroke-width="1.8" />
<line x1="446.63" y1="2110" x2="446.63" y2="2121" stroke="#1c1c1c" stroke-width="1.8" />
<line x1="591.6" y1="2110" x2="591.6" y2="2121" stroke="#1c1c1c" stroke-width="1.8" />
<line x1="229.18" y1="2110" x2="229.18" y2="2115.5" stroke="#1c1c1c" stroke-width="1.8" />
<line x1="374.15" y1="2110" x2="374.15" y2="2115.5" stroke="#1c1c1c" stroke-width="1.8" />
<line x1="519.12" y1="2110" x2="519.12" y2="2115.5" stroke="#1c1c1c" stroke-width="1.8" />
<text x="156.7" y="2153.1" font-size="32" text-anchor="middle" >0</text>
<text x="301.67" y="2153.1" font-size="32" text-anchor="middle" >1</text>
<text x="446.63" y="2153.1" font-size="32" text-anchor="middle" >2</text>
<text x="591.6" y="2153.1" font-size="32" text-anchor="middle" >3</text>
<line x1="615.2" y1="1567" x2="615.2" y2="2119.2" stroke="#1c1c1c" stroke-width="1.8" />
<line x1="615.2" y1="2108.2" x2="1061.2" y2="2108.2" stroke="#1c1c1c" stroke-width="1.8" />
<line x1="737.6" y1="1567" x2="1061.2" y2="1567" stroke="#1c1c1c" stroke-width="1.8" />
<line x1="1049.8" y1="1567" x2="1049.8" y2="2119.2" stroke="#1c1c1c" stroke-width="1.8" />
<line x1="1049.8" y1="2108.2" x2="1061.2" y2="2108.2" stroke="#1c1c1c" stroke-width="1.8" />
<text x="1069.6" y="2117.8" font-size="32" text-anchor="start" >0.0</text>
<line x1="1049.8" y1="1999.96" x2="1061.2" y2="1999.96" stroke="#1c1c1c" stroke-width="1.8" />
<text x="1069.6" y="2009.56" font-size="32" text-anchor="start" >0.2</text>
<line x1="1049.8" y1="1891.72" x2="1061.2" y2="1891.72" stroke="#1c1c1c" stroke-width="1.8" />
<text x="1069.6" y="1901.32" font-size="32" text-anchor="start" >0.4</text>
<line x1="1049.8" y1="1783.48" x2="1061.2" y2="1783.48" stroke="#1c1c1c" stroke-width="1.8" />
<text x="1069.6" y="1793.08" font-size="32" text-anchor="start" >0.6</text>
<line x1="1049.8" y1="1675.24" x2="1061.2" y2="1675.24" stroke="#1c1c1c" stroke-width="1.8" />
<text x="1069.6" y="1684.84" font-size="32" text-anchor="start" >0.8</text>
<line x1="1049.8" y1="1567" x2="1061.2" y2="1567" stroke="#1c1c1c" stroke-width="1.8" />
<text x="1069.6" y="1576.6" font-size="32" text-anchor="start" >1.0</text>
<line x1="1049.8" y1="2054.08" x2="1055.8" y2="2054.08" stroke="#1c1c1c" stroke-width="1.8" />
<line x1="1049.8" y1="1945.84" x2="1055.8" y2="1945.84" stroke="#1c1c1c" stroke-width="1.8" />
<line x1="1049.8" y1="1837.6" x2="1055.8" y2="1837.6" stroke="#1c1c1c" stroke-width="1.8" />
<line x1="1049.8" y1="1729.36" x2="1055.8" y2="1729.36" stroke="#1c1c1c" stroke-width="1.8" />
<line x1="1049.8" y1="1621.12" x2="1055.8" y2="1621.12" stroke="#1c1c1c" stroke-width="1.8" />
<line x1="615.2" y1="2108.2" x2="615.2" y2="2119.2" stroke="#1c1c1c" stroke-width="1.8" />
<line x1="760.07" y1="2108.2" x2="760.07" y2="2119.2" stroke="#1c1c1c" stroke-width="1.8" />
<line x1="904.93" y1="2108.2" x2="904.93" y2="2119.2" stroke="#1c1c1c" stroke-width="1.8" />
<line x1="1049.8" y1="2108.2" x2="1049.8" y2="2119.2" stroke="#1c1c1c" stroke-width="1.8" />
<line x1="687.63" y1="2108.2" x2="687.63" y2="2113.7" stroke="#1c1c1c" stroke-width="1.8" />
<line x1="832.5" y1="2108.2" x2="832.5" y2="2113.7" stroke="#1c1c1c" stroke-width="1.8" />
<line x1="977.37" y1="2108.2" x2="977.37" y2="2113.7" stroke="#1c1c1c" stroke-width="1.8" />
<text x="615.2" y="2151.3" font-size="32" text-anchor="middle" >0</text>
<text x="760.07" y="2151.3" font-size="32" text-anchor="middle" >1</text>
<text x="904.93" y="2151.3" font-size="32" text-anchor="middle" >2</text>
<text x="1049.8" y="2151.3" font-size="32" text-anchor="middle" >3</text>
<rect x="457.3" y="1544.7" width="280.3" height="45" fill="#fff"/>
<rect x="480" y="1598.9" width="250" height="139.2" fill="#fff"/>
<text x="462.5" y="1577.3" font-size="32" text-anchor="start" >Cathode Pt loading</text>
<line x1="488.4" y1="1622.5" x2="552.3" y2="1622.5" stroke="#4f4f4f" stroke-width="2.6" />
<circle cx="520.5" cy="1622.5" r="9.6" fill="#5e5e5e" stroke="#5e5e5e" stroke-width="0.8"/>
<text x="561" y="1631.5" font-size="28.7" text-anchor="start" >0.6 mg cm<tspan font-size="20" dy="-11.5" dx="1">-2</tspan></text>
<line x1="488.4" y1="1670.5" x2="552.3" y2="1670.5" stroke="#d93131" stroke-width="2.6" />
<polygon points="520.5,1657.7 531.8,1676.9 509.2,1676.9" fill="#ef3b3b" stroke="#d42a2a" stroke-width="0.8" stroke-linejoin="miter"/>
<text x="561" y="1679.5" font-size="28.7" text-anchor="start" >0.3 mg cm<tspan font-size="20" dy="-11.5" dx="1">-2</tspan></text>
<line x1="488.4" y1="1718.5" x2="552.3" y2="1718.5" stroke="#1a5cc4" stroke-width="2.6" />
<rect x="512.4" y="1710.2" width="16.6" height="16.6" fill="#1f6ee0" stroke="#1a62d0" stroke-width="0.8"/>
<text x="561" y="1727.5" font-size="28.7" text-anchor="start" >0.1 mg cm<tspan font-size="20" dy="-11.5" dx="1">-2</tspan></text>
<text x="406.5" y="2203.6" font-size="34.4" text-anchor="start" word-spacing="1.2">Current density (A cm<tspan font-size="24" dy="-13.8" dx="1.5">-2</tspan><tspan dy="13.8" dx="0.5">)</tspan></text>
<text transform="translate(54,1955.1) rotate(-90)" font-size="33.9" text-anchor="start">Cell voltage (V)</text>
<text transform="translate(1163.4,2006.7) rotate(-90)" font-size="33.2" text-anchor="start">Power density (W cm<tspan font-size="22.5" dy="-13.3">-2</tspan><tspan dy="13.3">)</tspan></text>
<text x="0" y="1572.3" font-size="33" font-weight="bold">c</text>
<clipPath id="c9"><rect x="1350.5" y="1564.2" width="452.5" height="543"/></clipPath>
<g clip-path="url(#c9)">
<polyline points="1352.7,1928.8 1356,1933.6 1358.2,1939.1 1373.5,1943.3 1383.8,1949.5 1394.9,1950.9 1407.3,1955.7 1420.5,1957.1 1433.6,1959.2 1446,1962.6 1457.8,1964.7 1470.2,1965 1476.5,1965.4" fill="none" stroke="#1f6ee0" stroke-width="2.0" stroke-linejoin="round"/>
<rect x="1345.1" y="1921.2" width="15.2" height="15.2" fill="#fff" stroke="#1f6ee0" stroke-width="2.1"/>
<rect x="1348.4" y="1926" width="15.2" height="15.2" fill="#fff" stroke="#1f6ee0" stroke-width="2.1"/>
<rect x="1350.6" y="1931.5" width="15.2" height="15.2" fill="#fff" stroke="#1f6ee0" stroke-width="2.1"/>
<rect x="1365.9" y="1935.7" width="15.2" height="15.2" fill="#fff" stroke="#1f6ee0" stroke-width="2.1"/>
<rect x="1376.2" y="1941.9" width="15.2" height="15.2" fill="#fff" stroke="#1f6ee0" stroke-width="2.1"/>
<rect x="1387.3" y="1943.3" width="15.2" height="15.2" fill="#fff" stroke="#1f6ee0" stroke-width="2.1"/>
<rect x="1399.7" y="1948.1" width="15.2" height="15.2" fill="#fff" stroke="#1f6ee0" stroke-width="2.1"/>
<rect x="1412.9" y="1949.5" width="15.2" height="15.2" fill="#fff" stroke="#1f6ee0" stroke-width="2.1"/>
<rect x="1426" y="1951.6" width="15.2" height="15.2" fill="#fff" stroke="#1f6ee0" stroke-width="2.1"/>
<rect x="1438.4" y="1955" width="15.2" height="15.2" fill="#fff" stroke="#1f6ee0" stroke-width="2.1"/>
<rect x="1450.2" y="1957.1" width="15.2" height="15.2" fill="#fff" stroke="#1f6ee0" stroke-width="2.1"/>
<rect x="1462.6" y="1957.4" width="15.2" height="15.2" fill="#fff" stroke="#1f6ee0" stroke-width="2.1"/>
<rect x="1468.9" y="1957.8" width="15.2" height="15.2" fill="#fff" stroke="#1f6ee0" stroke-width="2.1"/>
</g>
<g clip-path="url(#c9)">
<polyline points="1350.8,2008 1352.4,2010.2 1365.6,2015.7 1379.4,2018.5 1396.7,2018 1417.4,2021.9 1440.7,2022.6 1465.8,2024.7 1492.8,2026.1 1518.4,2027.2 1543,2028.1 1566,2029.4 1588.6,2029.4 1604.7,2029.4" fill="none" stroke="#ef3b3b" stroke-width="2.0" stroke-linejoin="round"/>
<polygon points="1350.8,1995.33 1361.8,2014.33 1339.8,2014.33" fill="#fff" stroke="#ef3b3b" stroke-width="2.1" stroke-linejoin="miter"/>
<polygon points="1352.4,1997.53 1363.4,2016.53 1341.4,2016.53" fill="#fff" stroke="#ef3b3b" stroke-width="2.1" stroke-linejoin="miter"/>
<polygon points="1365.6,2003.03 1376.6,2022.03 1354.6,2022.03" fill="#fff" stroke="#ef3b3b" stroke-width="2.1" stroke-linejoin="miter"/>
<polygon points="1379.4,2005.83 1390.4,2024.83 1368.4,2024.83" fill="#fff" stroke="#ef3b3b" stroke-width="2.1" stroke-linejoin="miter"/>
<polygon points="1396.7,2005.33 1407.7,2024.33 1385.7,2024.33" fill="#fff" stroke="#ef3b3b" stroke-width="2.1" stroke-linejoin="miter"/>
<polygon points="1417.4,2009.23 1428.4,2028.23 1406.4,2028.23" fill="#fff" stroke="#ef3b3b" stroke-width="2.1" stroke-linejoin="miter"/>
<polygon points="1440.7,2009.93 1451.7,2028.93 1429.7,2028.93" fill="#fff" stroke="#ef3b3b" stroke-width="2.1" stroke-linejoin="miter"/>
<polygon points="1465.8,2012.03 1476.8,2031.03 1454.8,2031.03" fill="#fff" stroke="#ef3b3b" stroke-width="2.1" stroke-linejoin="miter"/>
<polygon points="1492.8,2013.43 1503.8,2032.43 1481.8,2032.43" fill="#fff" stroke="#ef3b3b" stroke-width="2.1" stroke-linejoin="miter"/>
<polygon points="1518.4,2014.53 1529.4,2033.53 1507.4,2033.53" fill="#fff" stroke="#ef3b3b" stroke-width="2.1" stroke-linejoin="miter"/>
<polygon points="1543,2015.43 1554,2034.43 1532,2034.43" fill="#fff" stroke="#ef3b3b" stroke-width="2.1" stroke-linejoin="miter"/>
<polygon points="1566,2016.73 1577,2035.73 1555,2035.73" fill="#fff" stroke="#ef3b3b" stroke-width="2.1" stroke-linejoin="miter"/>
<polygon points="1588.6,2016.73 1599.6,2035.73 1577.6,2035.73" fill="#fff" stroke="#ef3b3b" stroke-width="2.1" stroke-linejoin="miter"/>
<polygon points="1604.7,2016.73 1615.7,2035.73 1593.7,2035.73" fill="#fff" stroke="#ef3b3b" stroke-width="2.1" stroke-linejoin="miter"/>
</g>
<g clip-path="url(#c9)">
<polyline points="1351,2024 1354.5,2025.1 1358.7,2028.6 1369,2030 1386.3,2032 1407.7,2032 1434,2034.8 1463,2035.5 1494.6,2037.6 1528,2038.3 1561.5,2039.2 1590.9,2040.7 1619.7,2041.2 1648,2041.6 1667.8,2041.6" fill="none" stroke="#5e5e5e" stroke-width="2.0" stroke-linejoin="round"/>
<circle cx="1351" cy="2024" r="8.5" fill="#fff" stroke="#4f4f4f" stroke-width="2.1"/>
<circle cx="1354.5" cy="2025.1" r="8.5" fill="#fff" stroke="#4f4f4f" stroke-width="2.1"/>
<circle cx="1358.7" cy="2028.6" r="8.5" fill="#fff" stroke="#4f4f4f" stroke-width="2.1"/>
<circle cx="1369" cy="2030" r="8.5" fill="#fff" stroke="#4f4f4f" stroke-width="2.1"/>
<circle cx="1386.3" cy="2032" r="8.5" fill="#fff" stroke="#4f4f4f" stroke-width="2.1"/>
<circle cx="1407.7" cy="2032" r="8.5" fill="#fff" stroke="#4f4f4f" stroke-width="2.1"/>
<circle cx="1434" cy="2034.8" r="8.5" fill="#fff" stroke="#4f4f4f" stroke-width="2.1"/>
<circle cx="1463" cy="2035.5" r="8.5" fill="#fff" stroke="#4f4f4f" stroke-width="2.1"/>
<circle cx="1494.6" cy="2037.6" r="8.5" fill="#fff" stroke="#4f4f4f" stroke-width="2.1"/>
<circle cx="1528" cy="2038.3" r="8.5" fill="#fff" stroke="#4f4f4f" stroke-width="2.1"/>
<circle cx="1561.5" cy="2039.2" r="8.5" fill="#fff" stroke="#4f4f4f" stroke-width="2.1"/>
<circle cx="1590.9" cy="2040.7" r="8.5" fill="#fff" stroke="#4f4f4f" stroke-width="2.1"/>
<circle cx="1619.7" cy="2041.2" r="8.5" fill="#fff" stroke="#4f4f4f" stroke-width="2.1"/>
<circle cx="1648" cy="2041.6" r="8.5" fill="#fff" stroke="#4f4f4f" stroke-width="2.1"/>
<circle cx="1667.8" cy="2041.6" r="8.5" fill="#fff" stroke="#4f4f4f" stroke-width="2.1"/>
</g>
<rect x="1350.5" y="1564.2" width="452.5" height="543" fill="none" stroke="#1c1c1c" stroke-width="1.5"/>
<line x1="1340.5" y1="2107.2" x2="1350.5" y2="2107.2" stroke="#1c1c1c" stroke-width="1.5" />
<text x="1333" y="2116.1" font-size="29.2" text-anchor="end" >0.0</text>
<line x1="1340.5" y1="1971.45" x2="1350.5" y2="1971.45" stroke="#1c1c1c" stroke-width="1.5" />
<text x="1333" y="1980.35" font-size="29.2" text-anchor="end" >0.1</text>
<line x1="1340.5" y1="1835.7" x2="1350.5" y2="1835.7" stroke="#1c1c1c" stroke-width="1.5" />
<text x="1333" y="1844.6" font-size="29.2" text-anchor="end" >0.2</text>
<line x1="1340.5" y1="1699.95" x2="1350.5" y2="1699.95" stroke="#1c1c1c" stroke-width="1.5" />
<text x="1333" y="1708.85" font-size="29.2" text-anchor="end" >0.3</text>
<line x1="1340.5" y1="1564.2" x2="1350.5" y2="1564.2" stroke="#1c1c1c" stroke-width="1.5" />
<text x="1333" y="1573.1" font-size="29.2" text-anchor="end" >0.4</text>
<line x1="1345.5" y1="2039.32" x2="1350.5" y2="2039.32" stroke="#1c1c1c" stroke-width="1.5" />
<line x1="1345.5" y1="1903.57" x2="1350.5" y2="1903.57" stroke="#1c1c1c" stroke-width="1.5" />
<line x1="1345.5" y1="1767.83" x2="1350.5" y2="1767.83" stroke="#1c1c1c" stroke-width="1.5" />
<line x1="1345.5" y1="1632.08" x2="1350.5" y2="1632.08" stroke="#1c1c1c" stroke-width="1.5" />
<line x1="1350.5" y1="2107.2" x2="1350.5" y2="2117.2" stroke="#1c1c1c" stroke-width="1.5" />
<text x="1350.5" y="2146.7" font-size="29.2" text-anchor="middle" >0.0</text>
<line x1="1425.92" y1="2107.2" x2="1425.92" y2="2117.2" stroke="#1c1c1c" stroke-width="1.5" />
<text x="1425.92" y="2146.7" font-size="29.2" text-anchor="middle" >0.5</text>
<line x1="1501.33" y1="2107.2" x2="1501.33" y2="2117.2" stroke="#1c1c1c" stroke-width="1.5" />
<text x="1501.33" y="2146.7" font-size="29.2" text-anchor="middle" >1.0</text>
<line x1="1576.75" y1="2107.2" x2="1576.75" y2="2117.2" stroke="#1c1c1c" stroke-width="1.5" />
<text x="1576.75" y="2146.7" font-size="29.2" text-anchor="middle" >1.5</text>
<line x1="1652.17" y1="2107.2" x2="1652.17" y2="2117.2" stroke="#1c1c1c" stroke-width="1.5" />
<text x="1652.17" y="2146.7" font-size="29.2" text-anchor="middle" >2.0</text>
<line x1="1727.58" y1="2107.2" x2="1727.58" y2="2117.2" stroke="#1c1c1c" stroke-width="1.5" />
<text x="1727.58" y="2146.7" font-size="29.2" text-anchor="middle" >2.5</text>
<line x1="1803" y1="2107.2" x2="1803" y2="2117.2" stroke="#1c1c1c" stroke-width="1.5" />
<text x="1803" y="2146.7" font-size="29.2" text-anchor="middle" >3.0</text>
<line x1="1388.21" y1="2107.2" x2="1388.21" y2="2112.2" stroke="#1c1c1c" stroke-width="1.5" />
<line x1="1463.62" y1="2107.2" x2="1463.62" y2="2112.2" stroke="#1c1c1c" stroke-width="1.5" />
<line x1="1539.04" y1="2107.2" x2="1539.04" y2="2112.2" stroke="#1c1c1c" stroke-width="1.5" />
<line x1="1614.46" y1="2107.2" x2="1614.46" y2="2112.2" stroke="#1c1c1c" stroke-width="1.5" />
<line x1="1689.88" y1="2107.2" x2="1689.88" y2="2112.2" stroke="#1c1c1c" stroke-width="1.5" />
<line x1="1765.29" y1="2107.2" x2="1765.29" y2="2112.2" stroke="#1c1c1c" stroke-width="1.5" />
<text x="1409.5" y="2194.7" font-size="31" text-anchor="start" >Current density (A cm<tspan font-size="22" dy="-13.5" dx="1.5">-2</tspan><tspan dy="13.5" dx="0.5">)</tspan></text>
<text transform="translate(1276.5,1930.1) rotate(-90)" font-size="31" text-anchor="start">HFR (ohm*cm<tspan font-size="21.5" dy="-13">2</tspan><tspan dy="13">)</tspan></text>
<text x="1776.8" y="1612.6" font-size="28.4" text-anchor="end" >160 <tspan font-size="32" dy="1.6">°</tspan><tspan dy="-1.6">C,</tspan><tspan dx="2"> 148 kPa</tspan></text>
</svg>
</body></html>
